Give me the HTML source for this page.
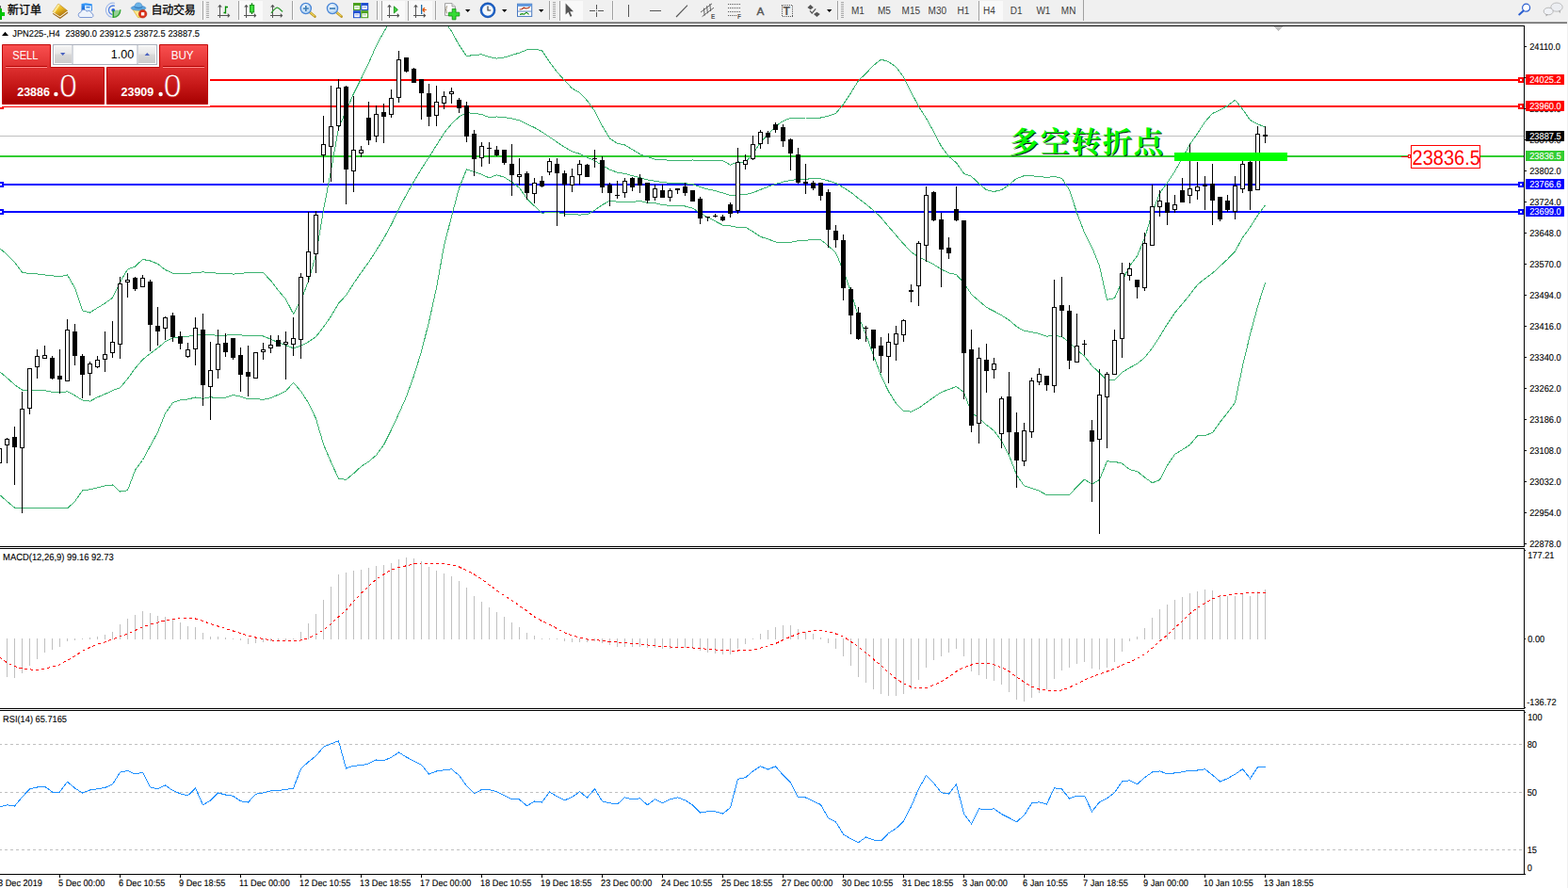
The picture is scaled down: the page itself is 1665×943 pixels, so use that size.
<!DOCTYPE html>
<html><head><meta charset="utf-8"><title>JPN225-,H4</title>
<style>
html,body{margin:0;padding:0;background:#fff;}
body{width:1665px;height:943px;overflow:hidden;position:relative;font-family:"Liberation Sans", sans-serif;}

#tb{position:absolute;left:0;top:0;width:1664px;height:23px;background:#f0f0f0;}
#tbl1{position:absolute;left:0;top:23px;width:1664px;height:1px;background:#a0a0a0;}
#tbl2{position:absolute;left:0;top:24px;width:1664px;height:1px;background:#696969;}
#redge{position:absolute;left:1664px;top:0;width:1px;height:943px;background:#f0f0f0;}
#oc{position:absolute;left:0;top:44px;width:224px;height:68px;background:#fff;}
#oc div{position:absolute;box-sizing:border-box;}
#oc .red{background:linear-gradient(#f24a4a 0%,#dc2c2c 30%,#c41414 70%,#a80000 100%);}
#oc .btn{background:linear-gradient(#f55252 0%,#e23434 100%);color:#fff;font-size:11px;text-align:center;line-height:23px;}
#oc .ul{height:1px;background:#f98a8a;}
#oc .sm{color:#fff;font-weight:bold;font-size:12.5px;line-height:12px;}
#oc .lg{color:#fff;font-size:34px;line-height:34px;}
#oc .vol{left:56px;top:3px;width:112px;height:22px;background:#fff;border:1px solid #b4bcc8;}
#oc .sp{top:4px;width:19px;height:20px;background:linear-gradient(#f2f2f2,#cfcfcf);border:1px solid #c8c8c8;}

</style></head><body>
<svg width="1665" height="943" viewBox="0 0 1665 943" style="position:absolute;left:0;top:0" shape-rendering="crispEdges" font-family='"Liberation Sans", sans-serif'><defs><clipPath id="mainclip"><rect x="0" y="28" width="1618" height="552"/></clipPath></defs><rect x="0" y="27" width="1619" height="1" fill="#000"/><rect x="1618" y="27" width="1" height="554" fill="#000"/><rect x="0" y="580" width="1619" height="1" fill="#000"/><rect x="0" y="582" width="1619" height="1" fill="#000"/><rect x="1618" y="582" width="1" height="171" fill="#000"/><rect x="0" y="752" width="1619" height="1" fill="#000"/><rect x="0" y="754" width="1619" height="1" fill="#000"/><rect x="1618" y="754" width="1" height="175" fill="#000"/><rect x="0" y="928" width="1620" height="1" fill="#000"/><rect x="0" y="144" width="1618" height="1" fill="#c0c0c0"/><rect x="0" y="84" width="1618" height="2" fill="#ff0000"/><rect x="0" y="112" width="1618" height="2" fill="#ff0000"/><rect x="0" y="165" width="1618" height="2" fill="#32cd32"/><rect x="0" y="195" width="1618" height="2" fill="#0000ff"/><rect x="0" y="224" width="1618" height="2" fill="#0000ff"/><rect x="1612" y="82" width="6" height="6" fill="#ff0000"/><rect x="1614" y="84" width="2" height="2" fill="#fff"/><rect x="-2" y="82" width="6" height="6" fill="#ff0000"/><rect x="0" y="84" width="2" height="2" fill="#fff"/><rect x="1612" y="110" width="6" height="6" fill="#ff0000"/><rect x="1614" y="112" width="2" height="2" fill="#fff"/><rect x="-2" y="110" width="6" height="6" fill="#ff0000"/><rect x="0" y="112" width="2" height="2" fill="#fff"/><rect x="1612" y="193" width="6" height="6" fill="#0000ff"/><rect x="1614" y="195" width="2" height="2" fill="#fff"/><rect x="-2" y="193" width="6" height="6" fill="#0000ff"/><rect x="0" y="195" width="2" height="2" fill="#fff"/><rect x="1612" y="222" width="6" height="6" fill="#0000ff"/><rect x="1614" y="224" width="2" height="2" fill="#fff"/><rect x="-2" y="222" width="6" height="6" fill="#0000ff"/><rect x="0" y="224" width="2" height="2" fill="#fff"/><polyline points="-0.5,263.5 7.5,270.2 15.5,278.4 23.5,289.0 31.5,290.9 39.5,290.9 47.5,292.0 55.5,292.8 63.5,294.0 71.5,291.8 79.5,305.8 87.5,329.8 95.5,332.0 103.5,326.9 111.5,322.1 119.5,316.2 127.5,299.5 135.5,286.1 143.5,283.0 151.5,275.4 159.5,277.0 167.5,280.2 175.5,286.5 183.5,290.2 191.5,290.4 199.5,290.4 207.5,289.5 215.5,288.9 223.5,289.5 231.5,290.2 239.5,290.2 247.5,291.1 255.5,290.5 263.5,289.5 271.5,289.5 279.5,289.7 287.5,297.9 295.5,308.4 303.5,317.8 311.5,333.3 319.5,319.2 327.5,298.4 335.5,270.7 343.5,223.0 351.5,181.2 359.5,135.8 367.5,117.8 375.5,99.5 383.5,83.5 391.5,67.0 399.5,48.6 407.5,33.9 415.5,20.6 423.5,4.2 431.5,-7.7 439.5,-13.9 447.5,-14.8 455.5,-7.9 463.5,2.9 471.5,21.6 479.5,33.3 487.5,47.9 495.5,59.6 503.5,58.4 511.5,57.8 519.5,60.5 527.5,62.1 535.5,61.0 543.5,58.5 551.5,56.1 559.5,52.9 567.5,52.1 575.5,53.8 583.5,65.8 591.5,76.4 599.5,85.4 607.5,93.9 615.5,98.5 623.5,106.8 631.5,117.9 639.5,133.6 647.5,146.9 655.5,152.3 663.5,154.0 671.5,158.7 679.5,163.7 687.5,166.6 695.5,169.2 703.5,169.5 711.5,170.4 719.5,170.4 727.5,170.5 735.5,170.0 743.5,171.0 751.5,170.9 759.5,170.3 767.5,170.7 775.5,175.1 783.5,171.9 791.5,172.5 799.5,163.2 807.5,151.4 815.5,142.8 823.5,134.1 831.5,128.5 839.5,125.4 847.5,125.2 855.5,125.0 863.5,125.0 871.5,125.0 879.5,123.1 887.5,120.5 895.5,110.9 903.5,98.8 911.5,85.6 919.5,78.0 927.5,69.6 935.5,63.1 943.5,65.5 951.5,71.1 959.5,82.0 967.5,97.9 975.5,113.0 983.5,125.7 991.5,139.9 999.5,155.5 1007.5,166.0 1015.5,172.9 1023.5,184.3 1031.5,187.3 1039.5,195.0 1047.5,201.7 1055.5,203.5 1063.5,201.6 1071.5,196.3 1079.5,189.4 1087.5,186.7 1095.5,186.8 1103.5,187.4 1111.5,188.4 1119.5,187.4 1127.5,189.3 1135.5,201.5 1143.5,226.1 1151.5,247.1 1159.5,262.6 1167.5,282.3 1175.5,318.3 1183.5,316.6 1191.5,298.6 1199.5,282.7 1207.5,271.9 1215.5,252.7 1223.5,226.4 1231.5,205.1 1239.5,194.1 1247.5,181.9 1255.5,167.9 1263.5,153.3 1271.5,141.8 1279.5,129.4 1287.5,120.5 1295.5,116.8 1303.5,112.4 1311.5,106.2 1319.5,116.0 1327.5,127.5 1335.5,131.7 1343.5,135.2" fill="none" stroke="#3cb371" stroke-width="1" clip-path="url(#mainclip)"/><polyline points="-0.5,394.5 7.5,401.3 15.5,408.5 23.5,414.1 31.5,414.9 39.5,414.7 47.5,414.7 55.5,416.2 63.5,417.1 71.5,415.7 79.5,420.0 87.5,425.0 95.5,426.1 103.5,421.9 111.5,418.5 119.5,414.7 127.5,411.8 135.5,402.2 143.5,391.2 151.5,381.9 159.5,375.4 167.5,369.6 175.5,362.8 183.5,358.9 191.5,357.6 199.5,357.2 207.5,355.8 215.5,356.1 223.5,355.6 231.5,356.4 239.5,356.2 247.5,355.3 255.5,355.9 263.5,356.7 271.5,356.6 279.5,357.0 287.5,360.2 295.5,363.8 303.5,366.6 311.5,369.8 319.5,367.3 327.5,363.1 335.5,357.6 343.5,347.4 351.5,335.9 359.5,322.1 367.5,313.6 375.5,301.1 383.5,289.4 391.5,278.6 399.5,266.0 407.5,253.2 415.5,238.6 423.5,221.8 431.5,206.8 439.5,192.6 447.5,179.2 455.5,167.0 463.5,154.2 471.5,141.4 479.5,131.6 487.5,123.9 495.5,119.7 503.5,120.5 511.5,121.5 519.5,124.7 527.5,124.0 535.5,124.6 543.5,125.9 551.5,127.8 559.5,131.9 567.5,135.4 575.5,140.1 583.5,145.5 591.5,150.9 599.5,156.3 607.5,160.8 615.5,163.3 623.5,167.2 631.5,170.6 639.5,175.6 647.5,180.1 655.5,183.2 663.5,184.4 671.5,186.6 679.5,188.6 687.5,190.9 695.5,192.3 703.5,193.6 711.5,194.4 719.5,194.2 727.5,194.8 735.5,195.6 743.5,198.6 751.5,200.9 759.5,202.6 767.5,204.9 775.5,207.5 783.5,206.8 791.5,206.8 799.5,204.6 807.5,201.4 815.5,198.3 823.5,195.6 831.5,193.1 839.5,191.4 847.5,190.4 855.5,190.2 863.5,189.7 871.5,189.9 879.5,192.0 887.5,194.5 895.5,199.1 903.5,204.2 911.5,210.7 919.5,216.7 927.5,223.4 935.5,231.0 943.5,240.6 951.5,249.8 959.5,259.1 967.5,267.6 975.5,273.2 983.5,276.7 991.5,280.9 999.5,286.0 1007.5,289.8 1015.5,291.7 1023.5,300.4 1031.5,312.6 1039.5,319.5 1047.5,326.4 1055.5,330.5 1063.5,334.9 1071.5,339.9 1079.5,346.9 1087.5,351.3 1095.5,352.6 1103.5,354.4 1111.5,357.1 1119.5,356.4 1127.5,357.4 1135.5,363.6 1143.5,371.6 1151.5,378.1 1159.5,388.4 1167.5,395.9 1175.5,404.1 1183.5,403.4 1191.5,395.4 1199.5,390.6 1207.5,386.2 1215.5,379.8 1223.5,369.6 1231.5,357.4 1239.5,344.2 1247.5,332.2 1255.5,322.7 1263.5,312.9 1271.5,302.4 1279.5,295.9 1287.5,290.1 1295.5,282.6 1303.5,275.3 1311.5,266.9 1319.5,252.2 1327.5,241.3 1335.5,228.6 1343.5,217.8" fill="none" stroke="#3cb371" stroke-width="1" clip-path="url(#mainclip)"/><polyline points="-0.5,525.3 7.5,532.5 15.5,539.0 23.5,539.0 31.5,539.0 39.5,539.0 47.5,539.0 55.5,539.0 63.5,539.0 71.5,539.9 79.5,532.5 87.5,521.0 95.5,519.8 103.5,517.8 111.5,515.9 119.5,514.9 127.5,522.1 135.5,520.7 143.5,499.3 151.5,488.5 159.5,473.7 167.5,459.0 175.5,439.0 183.5,427.6 191.5,424.7 199.5,424.0 207.5,422.0 215.5,423.3 223.5,421.8 231.5,422.6 239.5,422.2 247.5,419.5 255.5,421.2 263.5,423.9 271.5,423.7 279.5,424.3 287.5,422.6 295.5,419.1 303.5,415.4 311.5,406.3 319.5,415.4 327.5,427.8 335.5,444.6 343.5,471.9 351.5,490.7 359.5,508.3 367.5,509.4 375.5,502.8 383.5,495.4 391.5,490.2 399.5,483.4 407.5,472.5 415.5,456.5 423.5,439.3 431.5,421.3 439.5,399.1 447.5,373.2 455.5,341.9 463.5,305.6 471.5,261.2 479.5,229.8 487.5,199.9 495.5,179.8 503.5,182.5 511.5,185.2 519.5,188.9 527.5,185.8 535.5,188.2 543.5,193.3 551.5,199.4 559.5,210.9 567.5,218.8 575.5,226.4 583.5,225.2 591.5,225.4 599.5,227.2 607.5,227.6 615.5,228.1 623.5,227.7 631.5,223.2 639.5,217.6 647.5,213.3 655.5,214.2 663.5,214.9 671.5,214.5 679.5,213.4 687.5,215.3 695.5,215.5 703.5,217.6 711.5,218.4 719.5,218.1 727.5,219.0 735.5,221.1 743.5,226.1 751.5,230.9 759.5,234.9 767.5,239.1 775.5,239.9 783.5,241.6 791.5,241.2 799.5,246.0 807.5,251.4 815.5,253.8 823.5,257.0 831.5,257.7 839.5,257.4 847.5,255.7 855.5,255.3 863.5,254.3 871.5,254.8 879.5,260.9 887.5,268.5 895.5,287.3 903.5,309.7 911.5,335.8 919.5,355.3 927.5,377.3 935.5,398.9 943.5,415.6 951.5,428.4 959.5,436.2 967.5,437.2 975.5,433.4 983.5,427.7 991.5,421.9 999.5,416.5 1007.5,413.5 1015.5,410.5 1023.5,416.6 1031.5,438.0 1039.5,444.0 1047.5,451.2 1055.5,457.5 1063.5,468.3 1071.5,483.5 1079.5,504.4 1087.5,515.9 1095.5,518.5 1103.5,521.3 1111.5,525.7 1119.5,525.3 1127.5,525.4 1135.5,525.6 1143.5,517.0 1151.5,509.2 1159.5,514.1 1167.5,509.5 1175.5,489.9 1183.5,490.3 1191.5,492.2 1199.5,498.6 1207.5,500.5 1215.5,506.9 1223.5,512.8 1231.5,509.6 1239.5,494.3 1247.5,482.5 1255.5,477.5 1263.5,472.4 1271.5,462.9 1279.5,462.4 1287.5,459.6 1295.5,448.3 1303.5,438.2 1311.5,427.6 1319.5,388.4 1327.5,355.2 1335.5,325.5 1343.5,300.3" fill="none" stroke="#3cb371" stroke-width="1" clip-path="url(#mainclip)"/><rect x="-1" y="476" width="1" height="16" fill="#000"/><rect x="-3" y="476" width="5" height="16" fill="#000"/><rect x="-2" y="477" width="3" height="14" fill="#fff"/><rect x="7" y="465" width="1" height="27" fill="#000"/><rect x="5" y="466" width="5" height="7" fill="#000"/><rect x="6" y="467" width="3" height="5" fill="#fff"/><rect x="15" y="453" width="1" height="62" fill="#000"/><rect x="13" y="464" width="5" height="11" fill="#000"/><rect x="23" y="416" width="1" height="129" fill="#000"/><rect x="21" y="434" width="5" height="42" fill="#000"/><rect x="22" y="435" width="3" height="40" fill="#fff"/><rect x="31" y="391" width="1" height="49" fill="#000"/><rect x="29" y="391" width="5" height="43" fill="#000"/><rect x="30" y="392" width="3" height="41" fill="#fff"/><rect x="39" y="371" width="1" height="31" fill="#000"/><rect x="37" y="378" width="5" height="12" fill="#000"/><rect x="38" y="379" width="3" height="10" fill="#fff"/><rect x="47" y="367" width="1" height="14" fill="#000"/><rect x="45" y="377" width="5" height="4" fill="#000"/><rect x="46" y="378" width="3" height="2" fill="#fff"/><rect x="55" y="378" width="1" height="25" fill="#000"/><rect x="53" y="380" width="5" height="22" fill="#000"/><rect x="63" y="371" width="1" height="47" fill="#000"/><rect x="61" y="399" width="5" height="4" fill="#000"/><rect x="71" y="339" width="1" height="66" fill="#000"/><rect x="69" y="350" width="5" height="55" fill="#000"/><rect x="70" y="351" width="3" height="53" fill="#fff"/><rect x="79" y="344" width="1" height="44" fill="#000"/><rect x="77" y="352" width="5" height="26" fill="#000"/><rect x="87" y="376" width="1" height="47" fill="#000"/><rect x="85" y="378" width="5" height="20" fill="#000"/><rect x="95" y="384" width="1" height="36" fill="#000"/><rect x="93" y="386" width="5" height="11" fill="#000"/><rect x="94" y="387" width="3" height="9" fill="#fff"/><rect x="103" y="378" width="1" height="13" fill="#000"/><rect x="101" y="382" width="5" height="8" fill="#000"/><rect x="102" y="383" width="3" height="6" fill="#fff"/><rect x="111" y="352" width="1" height="43" fill="#000"/><rect x="109" y="376" width="5" height="6" fill="#000"/><rect x="110" y="377" width="3" height="4" fill="#fff"/><rect x="119" y="341" width="1" height="39" fill="#000"/><rect x="117" y="363" width="5" height="12" fill="#000"/><rect x="118" y="364" width="3" height="10" fill="#fff"/><rect x="127" y="294" width="1" height="87" fill="#000"/><rect x="125" y="301" width="5" height="65" fill="#000"/><rect x="126" y="302" width="3" height="63" fill="#fff"/><rect x="135" y="290" width="1" height="26" fill="#000"/><rect x="133" y="297" width="5" height="3" fill="#000"/><rect x="134" y="298" width="3" height="1" fill="#fff"/><rect x="143" y="294" width="1" height="15" fill="#000"/><rect x="141" y="295" width="5" height="12" fill="#000"/><rect x="151" y="292" width="1" height="13" fill="#000"/><rect x="149" y="295" width="5" height="10" fill="#000"/><rect x="150" y="296" width="3" height="8" fill="#fff"/><rect x="159" y="297" width="1" height="76" fill="#000"/><rect x="157" y="299" width="5" height="46" fill="#000"/><rect x="167" y="326" width="1" height="41" fill="#000"/><rect x="165" y="346" width="5" height="6" fill="#000"/><rect x="175" y="336" width="1" height="25" fill="#000"/><rect x="173" y="337" width="5" height="12" fill="#000"/><rect x="174" y="338" width="3" height="10" fill="#fff"/><rect x="183" y="332" width="1" height="31" fill="#000"/><rect x="181" y="335" width="5" height="23" fill="#000"/><rect x="191" y="352" width="1" height="19" fill="#000"/><rect x="189" y="357" width="5" height="8" fill="#000"/><rect x="199" y="364" width="1" height="16" fill="#000"/><rect x="197" y="371" width="5" height="8" fill="#000"/><rect x="198" y="372" width="3" height="6" fill="#fff"/><rect x="207" y="337" width="1" height="51" fill="#000"/><rect x="205" y="348" width="5" height="23" fill="#000"/><rect x="206" y="349" width="3" height="21" fill="#fff"/><rect x="215" y="333" width="1" height="98" fill="#000"/><rect x="213" y="350" width="5" height="59" fill="#000"/><rect x="223" y="363" width="1" height="83" fill="#000"/><rect x="221" y="393" width="5" height="18" fill="#000"/><rect x="222" y="394" width="3" height="16" fill="#fff"/><rect x="231" y="350" width="1" height="52" fill="#000"/><rect x="229" y="365" width="5" height="28" fill="#000"/><rect x="230" y="366" width="3" height="26" fill="#fff"/><rect x="239" y="354" width="1" height="25" fill="#000"/><rect x="237" y="364" width="5" height="10" fill="#000"/><rect x="247" y="359" width="1" height="23" fill="#000"/><rect x="245" y="359" width="5" height="21" fill="#000"/><rect x="255" y="369" width="1" height="47" fill="#000"/><rect x="253" y="377" width="5" height="21" fill="#000"/><rect x="263" y="367" width="1" height="54" fill="#000"/><rect x="261" y="395" width="5" height="5" fill="#000"/><rect x="271" y="374" width="1" height="28" fill="#000"/><rect x="269" y="374" width="5" height="28" fill="#000"/><rect x="270" y="375" width="3" height="26" fill="#fff"/><rect x="279" y="364" width="1" height="18" fill="#000"/><rect x="277" y="371" width="5" height="3" fill="#000"/><rect x="278" y="372" width="3" height="1" fill="#fff"/><rect x="287" y="356" width="1" height="19" fill="#000"/><rect x="285" y="366" width="5" height="4" fill="#000"/><rect x="286" y="367" width="3" height="2" fill="#fff"/><rect x="295" y="356" width="1" height="12" fill="#000"/><rect x="293" y="361" width="5" height="7" fill="#000"/><rect x="303" y="352" width="1" height="51" fill="#000"/><rect x="301" y="363" width="5" height="3" fill="#000"/><rect x="302" y="364" width="3" height="1" fill="#fff"/><rect x="311" y="337" width="1" height="41" fill="#000"/><rect x="309" y="359" width="5" height="7" fill="#000"/><rect x="310" y="360" width="3" height="5" fill="#fff"/><rect x="319" y="290" width="1" height="91" fill="#000"/><rect x="317" y="294" width="5" height="67" fill="#000"/><rect x="318" y="295" width="3" height="65" fill="#fff"/><rect x="327" y="225" width="1" height="75" fill="#000"/><rect x="325" y="267" width="5" height="27" fill="#000"/><rect x="326" y="268" width="3" height="25" fill="#fff"/><rect x="335" y="224" width="1" height="66" fill="#000"/><rect x="333" y="228" width="5" height="42" fill="#000"/><rect x="334" y="229" width="3" height="40" fill="#fff"/><rect x="343" y="123" width="1" height="71" fill="#000"/><rect x="341" y="153" width="5" height="12" fill="#000"/><rect x="342" y="154" width="3" height="10" fill="#fff"/><rect x="351" y="91" width="1" height="102" fill="#000"/><rect x="349" y="134" width="5" height="22" fill="#000"/><rect x="350" y="135" width="3" height="20" fill="#fff"/><rect x="359" y="84" width="1" height="55" fill="#000"/><rect x="357" y="93" width="5" height="41" fill="#000"/><rect x="358" y="94" width="3" height="39" fill="#fff"/><rect x="367" y="91" width="1" height="126" fill="#000"/><rect x="365" y="92" width="5" height="88" fill="#000"/><rect x="375" y="102" width="1" height="102" fill="#000"/><rect x="373" y="159" width="5" height="23" fill="#000"/><rect x="374" y="160" width="3" height="21" fill="#fff"/><rect x="383" y="155" width="1" height="12" fill="#000"/><rect x="381" y="159" width="5" height="4" fill="#000"/><rect x="382" y="160" width="3" height="2" fill="#fff"/><rect x="391" y="108" width="1" height="46" fill="#000"/><rect x="389" y="125" width="5" height="24" fill="#000"/><rect x="399" y="112" width="1" height="39" fill="#000"/><rect x="397" y="121" width="5" height="24" fill="#000"/><rect x="398" y="122" width="3" height="22" fill="#fff"/><rect x="407" y="110" width="1" height="42" fill="#000"/><rect x="405" y="119" width="5" height="5" fill="#000"/><rect x="415" y="95" width="1" height="30" fill="#000"/><rect x="413" y="104" width="5" height="18" fill="#000"/><rect x="414" y="105" width="3" height="16" fill="#fff"/><rect x="423" y="54" width="1" height="55" fill="#000"/><rect x="421" y="63" width="5" height="41" fill="#000"/><rect x="422" y="64" width="3" height="39" fill="#fff"/><rect x="431" y="61" width="1" height="16" fill="#000"/><rect x="429" y="61" width="5" height="15" fill="#000"/><rect x="439" y="72" width="1" height="16" fill="#000"/><rect x="437" y="73" width="5" height="15" fill="#000"/><rect x="447" y="84" width="1" height="43" fill="#000"/><rect x="445" y="84" width="5" height="15" fill="#000"/><rect x="455" y="89" width="1" height="45" fill="#000"/><rect x="453" y="99" width="5" height="25" fill="#000"/><rect x="463" y="91" width="1" height="43" fill="#000"/><rect x="461" y="108" width="5" height="15" fill="#000"/><rect x="462" y="109" width="3" height="13" fill="#fff"/><rect x="471" y="97" width="1" height="19" fill="#000"/><rect x="469" y="102" width="5" height="8" fill="#000"/><rect x="470" y="103" width="3" height="6" fill="#fff"/><rect x="479" y="93" width="1" height="17" fill="#000"/><rect x="477" y="97" width="5" height="3" fill="#000"/><rect x="478" y="98" width="3" height="1" fill="#fff"/><rect x="487" y="104" width="1" height="16" fill="#000"/><rect x="485" y="106" width="5" height="9" fill="#000"/><rect x="495" y="108" width="1" height="43" fill="#000"/><rect x="493" y="112" width="5" height="33" fill="#000"/><rect x="503" y="138" width="1" height="49" fill="#000"/><rect x="501" y="142" width="5" height="27" fill="#000"/><rect x="511" y="151" width="1" height="26" fill="#000"/><rect x="509" y="155" width="5" height="13" fill="#000"/><rect x="510" y="156" width="3" height="11" fill="#fff"/><rect x="519" y="151" width="1" height="23" fill="#000"/><rect x="517" y="157" width="5" height="1" fill="#000"/><rect x="527" y="155" width="1" height="11" fill="#000"/><rect x="525" y="159" width="5" height="6" fill="#000"/><rect x="535" y="159" width="1" height="16" fill="#000"/><rect x="533" y="159" width="5" height="14" fill="#000"/><rect x="543" y="153" width="1" height="55" fill="#000"/><rect x="541" y="174" width="5" height="12" fill="#000"/><rect x="551" y="168" width="1" height="29" fill="#000"/><rect x="549" y="185" width="5" height="3" fill="#000"/><rect x="550" y="186" width="3" height="1" fill="#fff"/><rect x="559" y="182" width="1" height="30" fill="#000"/><rect x="557" y="184" width="5" height="21" fill="#000"/><rect x="567" y="189" width="1" height="27" fill="#000"/><rect x="565" y="194" width="5" height="12" fill="#000"/><rect x="566" y="195" width="3" height="10" fill="#fff"/><rect x="575" y="187" width="1" height="12" fill="#000"/><rect x="573" y="192" width="5" height="6" fill="#000"/><rect x="583" y="168" width="1" height="18" fill="#000"/><rect x="581" y="171" width="5" height="12" fill="#000"/><rect x="582" y="172" width="3" height="10" fill="#fff"/><rect x="591" y="168" width="1" height="72" fill="#000"/><rect x="589" y="174" width="5" height="10" fill="#000"/><rect x="599" y="181" width="1" height="49" fill="#000"/><rect x="597" y="184" width="5" height="12" fill="#000"/><rect x="607" y="179" width="1" height="25" fill="#000"/><rect x="605" y="187" width="5" height="10" fill="#000"/><rect x="606" y="188" width="3" height="8" fill="#fff"/><rect x="615" y="170" width="1" height="26" fill="#000"/><rect x="613" y="174" width="5" height="12" fill="#000"/><rect x="614" y="175" width="3" height="10" fill="#fff"/><rect x="623" y="174" width="1" height="14" fill="#000"/><rect x="621" y="175" width="5" height="13" fill="#000"/><rect x="631" y="159" width="1" height="19" fill="#000"/><rect x="629" y="168" width="5" height="1" fill="#000"/><rect x="639" y="166" width="1" height="39" fill="#000"/><rect x="637" y="170" width="5" height="29" fill="#000"/><rect x="647" y="194" width="1" height="25" fill="#000"/><rect x="645" y="196" width="5" height="9" fill="#000"/><rect x="655" y="192" width="1" height="19" fill="#000"/><rect x="653" y="207" width="5" height="1" fill="#000"/><rect x="663" y="189" width="1" height="21" fill="#000"/><rect x="661" y="192" width="5" height="13" fill="#000"/><rect x="662" y="193" width="3" height="11" fill="#fff"/><rect x="671" y="188" width="1" height="15" fill="#000"/><rect x="669" y="189" width="5" height="10" fill="#000"/><rect x="679" y="185" width="1" height="20" fill="#000"/><rect x="677" y="189" width="5" height="8" fill="#000"/><rect x="687" y="194" width="1" height="22" fill="#000"/><rect x="685" y="194" width="5" height="19" fill="#000"/><rect x="695" y="196" width="1" height="17" fill="#000"/><rect x="693" y="200" width="5" height="10" fill="#000"/><rect x="694" y="201" width="3" height="8" fill="#fff"/><rect x="703" y="196" width="1" height="14" fill="#000"/><rect x="701" y="202" width="5" height="8" fill="#000"/><rect x="711" y="200" width="1" height="14" fill="#000"/><rect x="709" y="202" width="5" height="8" fill="#000"/><rect x="710" y="203" width="3" height="6" fill="#fff"/><rect x="719" y="200" width="1" height="6" fill="#000"/><rect x="717" y="200" width="5" height="2" fill="#000"/><rect x="727" y="194" width="1" height="14" fill="#000"/><rect x="725" y="198" width="5" height="7" fill="#000"/><rect x="735" y="202" width="1" height="12" fill="#000"/><rect x="733" y="202" width="5" height="12" fill="#000"/><rect x="743" y="209" width="1" height="29" fill="#000"/><rect x="741" y="211" width="5" height="21" fill="#000"/><rect x="751" y="230" width="1" height="5" fill="#000"/><rect x="749" y="230" width="5" height="1" fill="#000"/><rect x="759" y="227" width="1" height="4" fill="#000"/><rect x="757" y="229" width="5" height="1" fill="#000"/><rect x="767" y="228" width="1" height="7" fill="#000"/><rect x="765" y="230" width="5" height="4" fill="#000"/><rect x="775" y="215" width="1" height="16" fill="#000"/><rect x="773" y="217" width="5" height="10" fill="#000"/><rect x="783" y="157" width="1" height="70" fill="#000"/><rect x="781" y="172" width="5" height="52" fill="#000"/><rect x="782" y="173" width="3" height="50" fill="#fff"/><rect x="791" y="164" width="1" height="16" fill="#000"/><rect x="789" y="170" width="5" height="5" fill="#000"/><rect x="790" y="171" width="3" height="3" fill="#fff"/><rect x="799" y="144" width="1" height="26" fill="#000"/><rect x="797" y="153" width="5" height="16" fill="#000"/><rect x="798" y="154" width="3" height="14" fill="#fff"/><rect x="807" y="138" width="1" height="20" fill="#000"/><rect x="805" y="140" width="5" height="13" fill="#000"/><rect x="806" y="141" width="3" height="11" fill="#fff"/><rect x="815" y="139" width="1" height="14" fill="#000"/><rect x="813" y="141" width="5" height="5" fill="#000"/><rect x="823" y="130" width="1" height="11" fill="#000"/><rect x="821" y="132" width="5" height="6" fill="#000"/><rect x="831" y="132" width="1" height="24" fill="#000"/><rect x="829" y="135" width="5" height="15" fill="#000"/><rect x="839" y="147" width="1" height="34" fill="#000"/><rect x="837" y="148" width="5" height="15" fill="#000"/><rect x="847" y="157" width="1" height="38" fill="#000"/><rect x="845" y="164" width="5" height="30" fill="#000"/><rect x="855" y="174" width="1" height="32" fill="#000"/><rect x="853" y="193" width="5" height="2" fill="#000"/><rect x="863" y="192" width="1" height="10" fill="#000"/><rect x="861" y="194" width="5" height="6" fill="#000"/><rect x="871" y="194" width="1" height="19" fill="#000"/><rect x="869" y="194" width="5" height="14" fill="#000"/><rect x="879" y="201" width="1" height="62" fill="#000"/><rect x="877" y="204" width="5" height="40" fill="#000"/><rect x="887" y="239" width="1" height="24" fill="#000"/><rect x="885" y="245" width="5" height="10" fill="#000"/><rect x="895" y="249" width="1" height="70" fill="#000"/><rect x="893" y="255" width="5" height="51" fill="#000"/><rect x="903" y="305" width="1" height="50" fill="#000"/><rect x="901" y="307" width="5" height="28" fill="#000"/><rect x="911" y="326" width="1" height="35" fill="#000"/><rect x="909" y="332" width="5" height="28" fill="#000"/><rect x="919" y="346" width="1" height="17" fill="#000"/><rect x="917" y="348" width="5" height="1" fill="#000"/><rect x="927" y="350" width="1" height="33" fill="#000"/><rect x="925" y="350" width="5" height="20" fill="#000"/><rect x="935" y="358" width="1" height="38" fill="#000"/><rect x="933" y="367" width="5" height="11" fill="#000"/><rect x="943" y="354" width="1" height="53" fill="#000"/><rect x="941" y="363" width="5" height="16" fill="#000"/><rect x="942" y="364" width="3" height="14" fill="#fff"/><rect x="951" y="346" width="1" height="37" fill="#000"/><rect x="949" y="354" width="5" height="12" fill="#000"/><rect x="950" y="355" width="3" height="10" fill="#fff"/><rect x="959" y="339" width="1" height="24" fill="#000"/><rect x="957" y="340" width="5" height="16" fill="#000"/><rect x="958" y="341" width="3" height="14" fill="#fff"/><rect x="967" y="302" width="1" height="19" fill="#000"/><rect x="965" y="308" width="5" height="2" fill="#000"/><rect x="975" y="256" width="1" height="69" fill="#000"/><rect x="973" y="258" width="5" height="46" fill="#000"/><rect x="974" y="259" width="3" height="44" fill="#fff"/><rect x="983" y="198" width="1" height="80" fill="#000"/><rect x="981" y="207" width="5" height="54" fill="#000"/><rect x="982" y="208" width="3" height="52" fill="#fff"/><rect x="991" y="203" width="1" height="32" fill="#000"/><rect x="989" y="204" width="5" height="30" fill="#000"/><rect x="999" y="226" width="1" height="79" fill="#000"/><rect x="997" y="233" width="5" height="32" fill="#000"/><rect x="1007" y="252" width="1" height="23" fill="#000"/><rect x="1005" y="263" width="5" height="6" fill="#000"/><rect x="1015" y="198" width="1" height="37" fill="#000"/><rect x="1013" y="222" width="5" height="12" fill="#000"/><rect x="1023" y="234" width="1" height="190" fill="#000"/><rect x="1021" y="234" width="5" height="141" fill="#000"/><rect x="1031" y="350" width="1" height="109" fill="#000"/><rect x="1029" y="371" width="5" height="81" fill="#000"/><rect x="1039" y="369" width="1" height="102" fill="#000"/><rect x="1037" y="380" width="5" height="70" fill="#000"/><rect x="1038" y="381" width="3" height="68" fill="#fff"/><rect x="1047" y="365" width="1" height="52" fill="#000"/><rect x="1045" y="382" width="5" height="12" fill="#000"/><rect x="1055" y="380" width="1" height="22" fill="#000"/><rect x="1053" y="386" width="5" height="7" fill="#000"/><rect x="1054" y="387" width="3" height="5" fill="#fff"/><rect x="1063" y="421" width="1" height="55" fill="#000"/><rect x="1061" y="423" width="5" height="38" fill="#000"/><rect x="1062" y="424" width="3" height="36" fill="#fff"/><rect x="1071" y="395" width="1" height="87" fill="#000"/><rect x="1069" y="421" width="5" height="38" fill="#000"/><rect x="1079" y="438" width="1" height="80" fill="#000"/><rect x="1077" y="459" width="5" height="30" fill="#000"/><rect x="1087" y="449" width="1" height="46" fill="#000"/><rect x="1085" y="457" width="5" height="33" fill="#000"/><rect x="1086" y="458" width="3" height="31" fill="#fff"/><rect x="1095" y="401" width="1" height="64" fill="#000"/><rect x="1093" y="404" width="5" height="55" fill="#000"/><rect x="1094" y="405" width="3" height="53" fill="#fff"/><rect x="1103" y="391" width="1" height="18" fill="#000"/><rect x="1101" y="397" width="5" height="9" fill="#000"/><rect x="1102" y="398" width="3" height="7" fill="#fff"/><rect x="1111" y="399" width="1" height="16" fill="#000"/><rect x="1109" y="399" width="5" height="10" fill="#000"/><rect x="1119" y="297" width="1" height="120" fill="#000"/><rect x="1117" y="326" width="5" height="84" fill="#000"/><rect x="1118" y="327" width="3" height="82" fill="#fff"/><rect x="1127" y="294" width="1" height="64" fill="#000"/><rect x="1125" y="324" width="5" height="6" fill="#000"/><rect x="1135" y="324" width="1" height="68" fill="#000"/><rect x="1133" y="330" width="5" height="53" fill="#000"/><rect x="1143" y="333" width="1" height="52" fill="#000"/><rect x="1141" y="367" width="5" height="18" fill="#000"/><rect x="1142" y="368" width="3" height="16" fill="#fff"/><rect x="1151" y="361" width="1" height="16" fill="#000"/><rect x="1149" y="365" width="5" height="1" fill="#000"/><rect x="1159" y="446" width="1" height="87" fill="#000"/><rect x="1157" y="457" width="5" height="12" fill="#000"/><rect x="1167" y="392" width="1" height="175" fill="#000"/><rect x="1165" y="419" width="5" height="48" fill="#000"/><rect x="1166" y="420" width="3" height="46" fill="#fff"/><rect x="1175" y="395" width="1" height="81" fill="#000"/><rect x="1173" y="397" width="5" height="25" fill="#000"/><rect x="1174" y="398" width="3" height="23" fill="#fff"/><rect x="1183" y="350" width="1" height="48" fill="#000"/><rect x="1181" y="361" width="5" height="37" fill="#000"/><rect x="1182" y="362" width="3" height="35" fill="#fff"/><rect x="1191" y="279" width="1" height="101" fill="#000"/><rect x="1189" y="290" width="5" height="70" fill="#000"/><rect x="1190" y="291" width="3" height="68" fill="#fff"/><rect x="1199" y="279" width="1" height="19" fill="#000"/><rect x="1197" y="285" width="5" height="8" fill="#000"/><rect x="1198" y="286" width="3" height="6" fill="#fff"/><rect x="1207" y="297" width="1" height="20" fill="#000"/><rect x="1205" y="297" width="5" height="8" fill="#000"/><rect x="1215" y="247" width="1" height="62" fill="#000"/><rect x="1213" y="258" width="5" height="48" fill="#000"/><rect x="1214" y="259" width="3" height="46" fill="#fff"/><rect x="1223" y="196" width="1" height="65" fill="#000"/><rect x="1221" y="219" width="5" height="42" fill="#000"/><rect x="1222" y="220" width="3" height="40" fill="#fff"/><rect x="1231" y="202" width="1" height="28" fill="#000"/><rect x="1229" y="213" width="5" height="7" fill="#000"/><rect x="1230" y="214" width="3" height="5" fill="#fff"/><rect x="1239" y="196" width="1" height="43" fill="#000"/><rect x="1237" y="215" width="5" height="11" fill="#000"/><rect x="1247" y="207" width="1" height="19" fill="#000"/><rect x="1245" y="217" width="5" height="6" fill="#000"/><rect x="1246" y="218" width="3" height="4" fill="#fff"/><rect x="1255" y="189" width="1" height="26" fill="#000"/><rect x="1253" y="202" width="5" height="13" fill="#000"/><rect x="1263" y="153" width="1" height="63" fill="#000"/><rect x="1261" y="200" width="5" height="8" fill="#000"/><rect x="1262" y="201" width="3" height="6" fill="#fff"/><rect x="1271" y="172" width="1" height="40" fill="#000"/><rect x="1269" y="198" width="5" height="5" fill="#000"/><rect x="1270" y="199" width="3" height="3" fill="#fff"/><rect x="1279" y="187" width="1" height="36" fill="#000"/><rect x="1277" y="196" width="5" height="2" fill="#000"/><rect x="1287" y="174" width="1" height="65" fill="#000"/><rect x="1285" y="195" width="5" height="18" fill="#000"/><rect x="1295" y="209" width="1" height="26" fill="#000"/><rect x="1293" y="209" width="5" height="24" fill="#000"/><rect x="1303" y="207" width="1" height="18" fill="#000"/><rect x="1301" y="213" width="5" height="10" fill="#000"/><rect x="1311" y="187" width="1" height="46" fill="#000"/><rect x="1309" y="197" width="5" height="28" fill="#000"/><rect x="1310" y="198" width="3" height="26" fill="#fff"/><rect x="1319" y="171" width="1" height="34" fill="#000"/><rect x="1317" y="174" width="5" height="27" fill="#000"/><rect x="1318" y="175" width="3" height="25" fill="#fff"/><rect x="1327" y="171" width="1" height="52" fill="#000"/><rect x="1325" y="172" width="5" height="31" fill="#000"/><rect x="1335" y="134" width="1" height="68" fill="#000"/><rect x="1333" y="142" width="5" height="60" fill="#000"/><rect x="1334" y="143" width="3" height="58" fill="#fff"/><rect x="1343" y="134" width="1" height="18" fill="#000"/><rect x="1341" y="143" width="5" height="2" fill="#000"/><rect x="1353" y="28" width="9" height="1" fill="#c0c0c0"/><rect x="1354" y="29" width="7" height="1" fill="#c0c0c0"/><rect x="1355" y="30" width="5" height="1" fill="#c0c0c0"/><rect x="1356" y="31" width="3" height="1" fill="#c0c0c0"/><rect x="1357" y="32" width="1" height="1" fill="#c0c0c0"/><rect x="1247" y="162" width="120" height="9" fill="#00ff00"/><rect x="1488" y="166" width="8" height="1" fill="#ff0000"/><rect x="1495" y="164" width="3" height="4" fill="#ff0000"/><rect x="1496" y="165" width="1" height="2" fill="#fff"/><rect x="1498.5" y="154.5" width="73" height="24" fill="#fff" stroke="#ff0000" stroke-width="1"/><rect x="-1" y="678" width="1" height="39" fill="#c0c0c0"/><rect x="7" y="678" width="1" height="41" fill="#c0c0c0"/><rect x="15" y="678" width="1" height="42" fill="#c0c0c0"/><rect x="23" y="678" width="1" height="37" fill="#c0c0c0"/><rect x="31" y="678" width="1" height="29" fill="#c0c0c0"/><rect x="39" y="678" width="1" height="22" fill="#c0c0c0"/><rect x="47" y="678" width="1" height="15" fill="#c0c0c0"/><rect x="55" y="678" width="1" height="12" fill="#c0c0c0"/><rect x="63" y="678" width="1" height="9" fill="#c0c0c0"/><rect x="71" y="678" width="1" height="3" fill="#c0c0c0"/><rect x="79" y="678" width="1" height="2" fill="#c0c0c0"/><rect x="87" y="678" width="1" height="1" fill="#c0c0c0"/><rect x="95" y="677" width="1" height="2" fill="#c0c0c0"/><rect x="103" y="676" width="1" height="3" fill="#c0c0c0"/><rect x="111" y="674" width="1" height="5" fill="#c0c0c0"/><rect x="119" y="671" width="1" height="8" fill="#c0c0c0"/><rect x="127" y="663" width="1" height="16" fill="#c0c0c0"/><rect x="135" y="657" width="1" height="22" fill="#c0c0c0"/><rect x="143" y="653" width="1" height="26" fill="#c0c0c0"/><rect x="151" y="649" width="1" height="30" fill="#c0c0c0"/><rect x="159" y="651" width="1" height="28" fill="#c0c0c0"/><rect x="167" y="654" width="1" height="25" fill="#c0c0c0"/><rect x="175" y="655" width="1" height="24" fill="#c0c0c0"/><rect x="183" y="658" width="1" height="21" fill="#c0c0c0"/><rect x="191" y="661" width="1" height="18" fill="#c0c0c0"/><rect x="199" y="665" width="1" height="14" fill="#c0c0c0"/><rect x="207" y="666" width="1" height="13" fill="#c0c0c0"/><rect x="215" y="672" width="1" height="7" fill="#c0c0c0"/><rect x="223" y="676" width="1" height="3" fill="#c0c0c0"/><rect x="231" y="676" width="1" height="3" fill="#c0c0c0"/><rect x="239" y="677" width="1" height="2" fill="#c0c0c0"/><rect x="247" y="678" width="1" height="1" fill="#c0c0c0"/><rect x="255" y="678" width="1" height="2" fill="#c0c0c0"/><rect x="263" y="678" width="1" height="6" fill="#c0c0c0"/><rect x="271" y="678" width="1" height="5" fill="#c0c0c0"/><rect x="279" y="678" width="1" height="4" fill="#c0c0c0"/><rect x="287" y="678" width="1" height="3" fill="#c0c0c0"/><rect x="295" y="678" width="1" height="2" fill="#c0c0c0"/><rect x="303" y="678" width="1" height="2" fill="#c0c0c0"/><rect x="311" y="678" width="1" height="1" fill="#c0c0c0"/><rect x="319" y="671" width="1" height="8" fill="#c0c0c0"/><rect x="327" y="662" width="1" height="17" fill="#c0c0c0"/><rect x="335" y="652" width="1" height="27" fill="#c0c0c0"/><rect x="343" y="637" width="1" height="42" fill="#c0c0c0"/><rect x="351" y="623" width="1" height="56" fill="#c0c0c0"/><rect x="359" y="610" width="1" height="69" fill="#c0c0c0"/><rect x="367" y="608" width="1" height="71" fill="#c0c0c0"/><rect x="375" y="606" width="1" height="73" fill="#c0c0c0"/><rect x="383" y="605" width="1" height="74" fill="#c0c0c0"/><rect x="391" y="603" width="1" height="76" fill="#c0c0c0"/><rect x="399" y="601" width="1" height="78" fill="#c0c0c0"/><rect x="407" y="600" width="1" height="79" fill="#c0c0c0"/><rect x="415" y="598" width="1" height="81" fill="#c0c0c0"/><rect x="423" y="594" width="1" height="85" fill="#c0c0c0"/><rect x="431" y="592" width="1" height="87" fill="#c0c0c0"/><rect x="439" y="593" width="1" height="86" fill="#c0c0c0"/><rect x="447" y="596" width="1" height="83" fill="#c0c0c0"/><rect x="455" y="602" width="1" height="77" fill="#c0c0c0"/><rect x="463" y="606" width="1" height="73" fill="#c0c0c0"/><rect x="471" y="609" width="1" height="70" fill="#c0c0c0"/><rect x="479" y="612" width="1" height="67" fill="#c0c0c0"/><rect x="487" y="617" width="1" height="62" fill="#c0c0c0"/><rect x="495" y="624" width="1" height="55" fill="#c0c0c0"/><rect x="503" y="633" width="1" height="46" fill="#c0c0c0"/><rect x="511" y="639" width="1" height="40" fill="#c0c0c0"/><rect x="519" y="645" width="1" height="34" fill="#c0c0c0"/><rect x="527" y="650" width="1" height="29" fill="#c0c0c0"/><rect x="535" y="655" width="1" height="24" fill="#c0c0c0"/><rect x="543" y="661" width="1" height="18" fill="#c0c0c0"/><rect x="551" y="666" width="1" height="13" fill="#c0c0c0"/><rect x="559" y="672" width="1" height="7" fill="#c0c0c0"/><rect x="567" y="675" width="1" height="4" fill="#c0c0c0"/><rect x="575" y="678" width="1" height="1" fill="#c0c0c0"/><rect x="583" y="678" width="1" height="1" fill="#c0c0c0"/><rect x="591" y="678" width="1" height="1" fill="#c0c0c0"/><rect x="599" y="678" width="1" height="3" fill="#c0c0c0"/><rect x="607" y="678" width="1" height="4" fill="#c0c0c0"/><rect x="615" y="678" width="1" height="4" fill="#c0c0c0"/><rect x="623" y="678" width="1" height="4" fill="#c0c0c0"/><rect x="631" y="678" width="1" height="3" fill="#c0c0c0"/><rect x="639" y="678" width="1" height="5" fill="#c0c0c0"/><rect x="647" y="678" width="1" height="7" fill="#c0c0c0"/><rect x="655" y="678" width="1" height="9" fill="#c0c0c0"/><rect x="663" y="678" width="1" height="9" fill="#c0c0c0"/><rect x="671" y="678" width="1" height="9" fill="#c0c0c0"/><rect x="679" y="678" width="1" height="9" fill="#c0c0c0"/><rect x="687" y="678" width="1" height="10" fill="#c0c0c0"/><rect x="695" y="678" width="1" height="10" fill="#c0c0c0"/><rect x="703" y="678" width="1" height="11" fill="#c0c0c0"/><rect x="711" y="678" width="1" height="11" fill="#c0c0c0"/><rect x="719" y="678" width="1" height="10" fill="#c0c0c0"/><rect x="727" y="678" width="1" height="10" fill="#c0c0c0"/><rect x="735" y="678" width="1" height="11" fill="#c0c0c0"/><rect x="743" y="678" width="1" height="13" fill="#c0c0c0"/><rect x="751" y="678" width="1" height="15" fill="#c0c0c0"/><rect x="759" y="678" width="1" height="16" fill="#c0c0c0"/><rect x="767" y="678" width="1" height="17" fill="#c0c0c0"/><rect x="775" y="678" width="1" height="17" fill="#c0c0c0"/><rect x="783" y="678" width="1" height="11" fill="#c0c0c0"/><rect x="791" y="678" width="1" height="6" fill="#c0c0c0"/><rect x="799" y="678" width="1" height="1" fill="#c0c0c0"/><rect x="807" y="673" width="1" height="6" fill="#c0c0c0"/><rect x="815" y="669" width="1" height="10" fill="#c0c0c0"/><rect x="823" y="666" width="1" height="13" fill="#c0c0c0"/><rect x="831" y="664" width="1" height="15" fill="#c0c0c0"/><rect x="839" y="664" width="1" height="15" fill="#c0c0c0"/><rect x="847" y="668" width="1" height="11" fill="#c0c0c0"/><rect x="855" y="671" width="1" height="8" fill="#c0c0c0"/><rect x="863" y="673" width="1" height="6" fill="#c0c0c0"/><rect x="871" y="677" width="1" height="2" fill="#c0c0c0"/><rect x="879" y="678" width="1" height="5" fill="#c0c0c0"/><rect x="887" y="678" width="1" height="11" fill="#c0c0c0"/><rect x="895" y="678" width="1" height="19" fill="#c0c0c0"/><rect x="903" y="678" width="1" height="29" fill="#c0c0c0"/><rect x="911" y="678" width="1" height="41" fill="#c0c0c0"/><rect x="919" y="678" width="1" height="47" fill="#c0c0c0"/><rect x="927" y="678" width="1" height="54" fill="#c0c0c0"/><rect x="935" y="678" width="1" height="59" fill="#c0c0c0"/><rect x="943" y="678" width="1" height="61" fill="#c0c0c0"/><rect x="951" y="678" width="1" height="61" fill="#c0c0c0"/><rect x="959" y="678" width="1" height="59" fill="#c0c0c0"/><rect x="967" y="678" width="1" height="54" fill="#c0c0c0"/><rect x="975" y="678" width="1" height="44" fill="#c0c0c0"/><rect x="983" y="678" width="1" height="31" fill="#c0c0c0"/><rect x="991" y="678" width="1" height="23" fill="#c0c0c0"/><rect x="999" y="678" width="1" height="19" fill="#c0c0c0"/><rect x="1007" y="678" width="1" height="15" fill="#c0c0c0"/><rect x="1015" y="678" width="1" height="11" fill="#c0c0c0"/><rect x="1023" y="678" width="1" height="19" fill="#c0c0c0"/><rect x="1031" y="678" width="1" height="35" fill="#c0c0c0"/><rect x="1039" y="678" width="1" height="39" fill="#c0c0c0"/><rect x="1047" y="678" width="1" height="43" fill="#c0c0c0"/><rect x="1055" y="678" width="1" height="45" fill="#c0c0c0"/><rect x="1063" y="678" width="1" height="49" fill="#c0c0c0"/><rect x="1071" y="678" width="1" height="57" fill="#c0c0c0"/><rect x="1079" y="678" width="1" height="65" fill="#c0c0c0"/><rect x="1087" y="678" width="1" height="67" fill="#c0c0c0"/><rect x="1095" y="678" width="1" height="63" fill="#c0c0c0"/><rect x="1103" y="678" width="1" height="58" fill="#c0c0c0"/><rect x="1111" y="678" width="1" height="54" fill="#c0c0c0"/><rect x="1119" y="678" width="1" height="43" fill="#c0c0c0"/><rect x="1127" y="678" width="1" height="34" fill="#c0c0c0"/><rect x="1135" y="678" width="1" height="31" fill="#c0c0c0"/><rect x="1143" y="678" width="1" height="27" fill="#c0c0c0"/><rect x="1151" y="678" width="1" height="25" fill="#c0c0c0"/><rect x="1159" y="678" width="1" height="32" fill="#c0c0c0"/><rect x="1167" y="678" width="1" height="33" fill="#c0c0c0"/><rect x="1175" y="678" width="1" height="31" fill="#c0c0c0"/><rect x="1183" y="678" width="1" height="25" fill="#c0c0c0"/><rect x="1191" y="678" width="1" height="14" fill="#c0c0c0"/><rect x="1199" y="678" width="1" height="3" fill="#c0c0c0"/><rect x="1207" y="676" width="1" height="3" fill="#c0c0c0"/><rect x="1215" y="667" width="1" height="12" fill="#c0c0c0"/><rect x="1223" y="656" width="1" height="23" fill="#c0c0c0"/><rect x="1231" y="647" width="1" height="32" fill="#c0c0c0"/><rect x="1239" y="642" width="1" height="37" fill="#c0c0c0"/><rect x="1247" y="637" width="1" height="42" fill="#c0c0c0"/><rect x="1255" y="634" width="1" height="45" fill="#c0c0c0"/><rect x="1263" y="630" width="1" height="49" fill="#c0c0c0"/><rect x="1271" y="628" width="1" height="51" fill="#c0c0c0"/><rect x="1279" y="626" width="1" height="53" fill="#c0c0c0"/><rect x="1287" y="627" width="1" height="52" fill="#c0c0c0"/><rect x="1295" y="632" width="1" height="47" fill="#c0c0c0"/><rect x="1303" y="633" width="1" height="46" fill="#c0c0c0"/><rect x="1311" y="633" width="1" height="46" fill="#c0c0c0"/><rect x="1319" y="631" width="1" height="48" fill="#c0c0c0"/><rect x="1327" y="633" width="1" height="46" fill="#c0c0c0"/><rect x="1335" y="628" width="1" height="51" fill="#c0c0c0"/><rect x="1343" y="626" width="1" height="53" fill="#c0c0c0"/><polyline points="-0.5,698.0 7.5,703.8 15.5,707.5 23.5,710.0 31.5,710.8 39.5,712.0 47.5,710.0 55.5,708.2 63.5,705.8 71.5,701.2 79.5,696.8 87.5,691.2 95.5,687.5 103.5,684.2 111.5,681.8 119.5,678.8 127.5,675.8 135.5,673.0 143.5,669.5 151.5,665.8 159.5,663.0 167.5,661.2 175.5,658.8 183.5,657.5 191.5,656.0 199.5,656.0 207.5,657.0 215.5,659.5 223.5,662.5 231.5,665.0 239.5,667.5 247.5,670.0 255.5,672.5 263.5,675.0 271.5,677.0 279.5,678.5 287.5,679.8 295.5,680.8 303.5,681.0 311.5,680.8 319.5,680.0 327.5,677.5 335.5,673.8 343.5,669.2 351.5,662.5 359.5,655.0 367.5,648.0 375.5,638.8 383.5,630.0 391.5,622.5 399.5,615.0 407.5,610.0 415.5,605.0 423.5,602.5 431.5,600.8 439.5,598.8 447.5,598.0 455.5,598.0 463.5,598.0 471.5,599.0 479.5,599.8 487.5,602.0 495.5,605.8 503.5,610.0 511.5,615.0 519.5,621.2 527.5,627.0 535.5,632.5 543.5,637.5 551.5,643.2 559.5,648.8 567.5,655.0 575.5,659.5 583.5,663.2 591.5,667.5 599.5,671.8 607.5,675.0 615.5,676.8 623.5,679.0 631.5,679.5 639.5,680.5 647.5,681.2 655.5,681.8 663.5,682.8 671.5,683.5 679.5,684.0 687.5,685.0 695.5,685.8 703.5,686.8 711.5,687.0 719.5,687.5 727.5,687.8 735.5,688.0 743.5,688.8 751.5,689.2 759.5,690.0 767.5,690.8 775.5,691.0 783.5,691.0 791.5,690.8 799.5,690.0 807.5,688.2 815.5,685.8 823.5,683.5 831.5,679.5 839.5,676.2 847.5,673.0 855.5,671.2 863.5,670.0 871.5,669.2 879.5,670.5 887.5,673.0 895.5,676.2 903.5,681.2 911.5,687.0 919.5,693.2 927.5,700.0 935.5,706.8 943.5,714.2 951.5,720.8 959.5,725.8 967.5,729.5 975.5,730.8 983.5,730.5 991.5,727.5 999.5,723.8 1007.5,718.8 1015.5,713.0 1023.5,708.8 1031.5,706.0 1039.5,704.2 1047.5,704.2 1055.5,705.8 1063.5,708.8 1071.5,713.0 1079.5,718.8 1087.5,724.5 1095.5,729.2 1103.5,732.0 1111.5,733.2 1119.5,733.8 1127.5,733.0 1135.5,730.0 1143.5,726.2 1151.5,722.0 1159.5,718.8 1167.5,715.8 1175.5,713.0 1183.5,710.0 1191.5,706.2 1199.5,703.0 1207.5,699.5 1215.5,694.5 1223.5,688.3 1231.5,681.0 1239.5,674.3 1247.5,666.8 1255.5,659.5 1263.5,651.8 1271.5,645.5 1279.5,640.5 1287.5,636.0 1295.5,632.7 1303.5,632.1 1311.5,630.9 1319.5,630.1 1327.5,629.9 1335.5,629.9 1343.5,629.9" fill="none" stroke="#ff0000" stroke-width="1" stroke-dasharray="3 3"/><line x1="0" y1="790.5" x2="1618" y2="790.5" stroke="#c0c0c0" stroke-width="1" stroke-dasharray="3 3" stroke-dashoffset="1"/><line x1="0" y1="841.5" x2="1618" y2="841.5" stroke="#c0c0c0" stroke-width="1" stroke-dasharray="3 3" stroke-dashoffset="1"/><line x1="0" y1="902.5" x2="1618" y2="902.5" stroke="#c0c0c0" stroke-width="1" stroke-dasharray="3 3" stroke-dashoffset="1"/><polyline points="-0.5,857.0 7.5,854.8 15.5,856.0 23.5,846.5 31.5,837.8 39.5,836.0 47.5,835.2 55.5,841.0 63.5,841.0 71.5,830.2 79.5,837.0 87.5,842.0 95.5,839.0 103.5,837.8 111.5,836.5 119.5,832.8 127.5,820.2 135.5,818.5 143.5,822.0 151.5,820.2 159.5,835.8 167.5,837.8 175.5,834.0 183.5,839.5 191.5,842.8 199.5,844.8 207.5,837.0 215.5,854.8 223.5,850.2 231.5,842.0 239.5,844.0 247.5,845.2 255.5,850.8 263.5,852.0 271.5,843.2 279.5,842.0 287.5,839.8 295.5,839.5 303.5,838.5 311.5,837.0 319.5,816.5 327.5,809.0 335.5,802.8 343.5,793.2 351.5,789.8 359.5,786.8 367.5,816.0 375.5,813.2 383.5,812.8 391.5,810.8 399.5,807.0 407.5,807.8 415.5,804.2 423.5,799.0 431.5,804.0 439.5,808.2 447.5,812.2 455.5,822.0 463.5,819.0 471.5,817.8 479.5,816.8 487.5,823.5 495.5,834.5 503.5,842.8 511.5,838.5 519.5,838.5 527.5,840.8 535.5,844.8 543.5,848.8 551.5,849.0 559.5,855.8 567.5,851.0 575.5,852.0 583.5,841.0 591.5,845.8 599.5,849.8 607.5,846.5 615.5,840.8 623.5,847.0 631.5,837.8 639.5,850.8 647.5,852.8 655.5,854.0 663.5,846.8 671.5,849.0 679.5,847.8 687.5,854.8 695.5,848.8 703.5,852.8 711.5,848.8 719.5,846.8 727.5,849.8 735.5,854.8 743.5,863.0 751.5,861.8 759.5,861.8 767.5,864.0 775.5,857.8 783.5,827.2 791.5,825.8 799.5,819.0 807.5,813.8 815.5,817.0 823.5,813.8 831.5,823.1 839.5,830.8 847.5,846.8 855.5,847.0 863.5,850.8 871.5,854.5 879.5,868.8 887.5,872.8 895.5,886.0 903.5,890.8 911.5,894.8 919.5,889.0 927.5,892.0 935.5,893.0 943.5,884.8 951.5,879.8 959.5,872.0 967.5,856.5 975.5,837.8 983.5,823.5 991.5,831.5 999.5,841.8 1007.5,843.0 1015.5,832.8 1023.5,864.0 1031.5,874.8 1039.5,858.8 1047.5,860.0 1055.5,858.8 1063.5,864.5 1071.5,868.5 1079.5,872.8 1087.5,865.8 1095.5,853.0 1103.5,851.8 1111.5,854.0 1119.5,836.8 1127.5,838.0 1135.5,848.0 1143.5,845.0 1151.5,845.0 1159.5,861.8 1167.5,851.8 1175.5,847.8 1183.5,841.8 1191.5,830.0 1199.5,828.8 1207.5,832.8 1215.5,825.8 1223.5,820.0 1231.5,818.9 1239.5,821.8 1247.5,820.9 1255.5,819.8 1263.5,818.0 1271.5,818.0 1279.5,816.7 1287.5,823.1 1295.5,830.0 1303.5,826.8 1311.5,822.2 1319.5,816.7 1327.5,826.8 1335.5,814.9 1343.5,814.9" fill="none" stroke="#1e90ff" stroke-width="1"/><rect x="1619" y="49" width="2" height="1" fill="#000"/><rect x="1619" y="82" width="2" height="1" fill="#000"/><rect x="1619" y="115" width="2" height="1" fill="#000"/><rect x="1619" y="148" width="2" height="1" fill="#000"/><rect x="1619" y="181" width="2" height="1" fill="#000"/><rect x="1619" y="214" width="2" height="1" fill="#000"/><rect x="1619" y="247" width="2" height="1" fill="#000"/><rect x="1619" y="280" width="2" height="1" fill="#000"/><rect x="1619" y="313" width="2" height="1" fill="#000"/><rect x="1619" y="346" width="2" height="1" fill="#000"/><rect x="1619" y="379" width="2" height="1" fill="#000"/><rect x="1619" y="412" width="2" height="1" fill="#000"/><rect x="1619" y="445" width="2" height="1" fill="#000"/><rect x="1619" y="478" width="2" height="1" fill="#000"/><rect x="1619" y="511" width="2" height="1" fill="#000"/><rect x="1619" y="544" width="2" height="1" fill="#000"/><rect x="1619" y="577" width="2" height="1" fill="#000"/><rect x="1619" y="584" width="1" height="1" fill="#000"/><rect x="1619" y="678" width="1" height="1" fill="#000"/><rect x="1619" y="751" width="1" height="1" fill="#000"/><rect x="1619" y="756" width="1" height="1" fill="#000"/><path d="M2 38 L5.5 33.7 L9 38 Z" fill="#000" shape-rendering="geometricPrecision"/><rect x="-1" y="929" width="1" height="3" fill="#000"/><rect x="63" y="929" width="1" height="3" fill="#000"/><rect x="127" y="929" width="1" height="3" fill="#000"/><rect x="191" y="929" width="1" height="3" fill="#000"/><rect x="255" y="929" width="1" height="3" fill="#000"/><rect x="319" y="929" width="1" height="3" fill="#000"/><rect x="383" y="929" width="1" height="3" fill="#000"/><rect x="447" y="929" width="1" height="3" fill="#000"/><rect x="511" y="929" width="1" height="3" fill="#000"/><rect x="575" y="929" width="1" height="3" fill="#000"/><rect x="639" y="929" width="1" height="3" fill="#000"/><rect x="703" y="929" width="1" height="3" fill="#000"/><rect x="767" y="929" width="1" height="3" fill="#000"/><rect x="831" y="929" width="1" height="3" fill="#000"/><rect x="895" y="929" width="1" height="3" fill="#000"/><rect x="959" y="929" width="1" height="3" fill="#000"/><rect x="1023" y="929" width="1" height="3" fill="#000"/><rect x="1087" y="929" width="1" height="3" fill="#000"/><rect x="1151" y="929" width="1" height="3" fill="#000"/><rect x="1215" y="929" width="1" height="3" fill="#000"/><rect x="1279" y="929" width="1" height="3" fill="#000"/><rect x="1343" y="929" width="1" height="3" fill="#000"/><g shape-rendering="geometricPrecision" text-rendering="geometricPrecision"><title>多空转折点</title><text x="1072.8" y="162.5" font-size="31.4" font-weight="bold" letter-spacing="1.6" fill="#041804" opacity="0.95" font-family='"Liberation Serif", "Noto Serif CJK SC", serif'>多空转折点</text><text x="1071.8" y="161.7" font-size="31.4" font-weight="bold" letter-spacing="1.6" fill="#00fa00" font-family='"Liberation Serif", "Noto Serif CJK SC", serif'>多空转折点</text></g><g shape-rendering="auto" text-rendering="geometricPrecision"><text transform="translate(1624.20,53.00) scale(0.925,1)" font-size="10.0" fill="#000" stroke="#000" stroke-width="0.12" font-weight="normal">24110.0</text><text transform="translate(1624.20,86.00) scale(0.925,1)" font-size="10.0" fill="#000" stroke="#000" stroke-width="0.12" font-weight="normal">24034.0</text><text transform="translate(1624.20,119.00) scale(0.925,1)" font-size="10.0" fill="#000" stroke="#000" stroke-width="0.12" font-weight="normal">23956.0</text><text transform="translate(1624.20,152.00) scale(0.925,1)" font-size="10.0" fill="#000" stroke="#000" stroke-width="0.12" font-weight="normal">23878.0</text><text transform="translate(1624.20,185.00) scale(0.925,1)" font-size="10.0" fill="#000" stroke="#000" stroke-width="0.12" font-weight="normal">23802.0</text><text transform="translate(1624.20,218.00) scale(0.925,1)" font-size="10.0" fill="#000" stroke="#000" stroke-width="0.12" font-weight="normal">23724.0</text><text transform="translate(1624.20,251.00) scale(0.925,1)" font-size="10.0" fill="#000" stroke="#000" stroke-width="0.12" font-weight="normal">23648.0</text><text transform="translate(1624.20,284.00) scale(0.925,1)" font-size="10.0" fill="#000" stroke="#000" stroke-width="0.12" font-weight="normal">23570.0</text><text transform="translate(1624.20,317.00) scale(0.925,1)" font-size="10.0" fill="#000" stroke="#000" stroke-width="0.12" font-weight="normal">23494.0</text><text transform="translate(1624.20,350.00) scale(0.925,1)" font-size="10.0" fill="#000" stroke="#000" stroke-width="0.12" font-weight="normal">23416.0</text><text transform="translate(1624.20,383.00) scale(0.925,1)" font-size="10.0" fill="#000" stroke="#000" stroke-width="0.12" font-weight="normal">23340.0</text><text transform="translate(1624.20,416.00) scale(0.925,1)" font-size="10.0" fill="#000" stroke="#000" stroke-width="0.12" font-weight="normal">23262.0</text><text transform="translate(1624.20,449.00) scale(0.925,1)" font-size="10.0" fill="#000" stroke="#000" stroke-width="0.12" font-weight="normal">23186.0</text><text transform="translate(1624.20,482.00) scale(0.925,1)" font-size="10.0" fill="#000" stroke="#000" stroke-width="0.12" font-weight="normal">23108.0</text><text transform="translate(1624.20,515.00) scale(0.925,1)" font-size="10.0" fill="#000" stroke="#000" stroke-width="0.12" font-weight="normal">23032.0</text><text transform="translate(1624.20,548.00) scale(0.925,1)" font-size="10.0" fill="#000" stroke="#000" stroke-width="0.12" font-weight="normal">22954.0</text><text transform="translate(1624.20,581.00) scale(0.925,1)" font-size="10.0" fill="#000" stroke="#000" stroke-width="0.12" font-weight="normal">22878.0</text><rect x="1620" y="79" width="41" height="11" fill="#ff0000"/><text transform="translate(1624.20,88.00) scale(0.925,1)" font-size="10.0" fill="#fff" stroke="#fff" stroke-width="0.12" font-weight="normal">24025.2</text><rect x="1620" y="107" width="41" height="11" fill="#ff0000"/><text transform="translate(1624.20,116.00) scale(0.925,1)" font-size="10.0" fill="#fff" stroke="#fff" stroke-width="0.12" font-weight="normal">23960.0</text><rect x="1620" y="139" width="41" height="11" fill="#000000"/><text transform="translate(1624.20,148.00) scale(0.925,1)" font-size="10.0" fill="#fff" stroke="#fff" stroke-width="0.12" font-weight="normal">23887.5</text><rect x="1620" y="160" width="41" height="11" fill="#32cd32"/><text transform="translate(1624.20,169.00) scale(0.925,1)" font-size="10.0" fill="#fff" stroke="#fff" stroke-width="0.12" font-weight="normal">23836.5</text><rect x="1620" y="190" width="41" height="11" fill="#0000ff"/><text transform="translate(1624.20,199.00) scale(0.925,1)" font-size="10.0" fill="#fff" stroke="#fff" stroke-width="0.12" font-weight="normal">23766.6</text><rect x="1620" y="219" width="41" height="11" fill="#0000ff"/><text transform="translate(1624.20,228.00) scale(0.925,1)" font-size="10.0" fill="#fff" stroke="#fff" stroke-width="0.12" font-weight="normal">23699.0</text><text transform="translate(1622.20,593.00) scale(0.925,1)" font-size="10.0" fill="#000" stroke="#000" stroke-width="0.12" font-weight="normal">177.21</text><text transform="translate(1622.20,682.00) scale(0.925,1)" font-size="10.0" fill="#000" stroke="#000" stroke-width="0.12" font-weight="normal">0.00</text><text transform="translate(1621.20,749.00) scale(0.925,1)" font-size="10.0" fill="#000" stroke="#000" stroke-width="0.12" font-weight="normal">-136.72</text><text transform="translate(1622.20,765.00) scale(0.925,1)" font-size="10.0" fill="#000" stroke="#000" stroke-width="0.12" font-weight="normal">100</text><text transform="translate(1621.70,794.00) scale(0.925,1)" font-size="10.0" fill="#000" stroke="#000" stroke-width="0.12" font-weight="normal">80</text><text transform="translate(1621.70,845.00) scale(0.925,1)" font-size="10.0" fill="#000" stroke="#000" stroke-width="0.12" font-weight="normal">50</text><text transform="translate(1621.70,906.00) scale(0.925,1)" font-size="10.0" fill="#000" stroke="#000" stroke-width="0.12" font-weight="normal">15</text><text transform="translate(1621.70,925.00) scale(0.925,1)" font-size="10.0" fill="#000" stroke="#000" stroke-width="0.12" font-weight="normal">0</text><text transform="translate(13.30,39.00) scale(0.925,1)" font-size="10.0" fill="#000" stroke="#000" stroke-width="0.12" font-weight="normal" xml:space="preserve" style="white-space:pre" word-spacing="0.35">JPN225-,H4  23890.0 23912.5 23872.5 23887.5</text><text transform="translate(3.10,595.00) scale(0.925,1)" font-size="10.16" fill="#000" stroke="#000" stroke-width="0.12" font-weight="normal">MACD(12,26,9) 99.16 92.73</text><text transform="translate(3.10,767.00) scale(0.925,1)" font-size="10.0" fill="#000" stroke="#000" stroke-width="0.12" font-weight="normal">RSI(14) 65.7165</text><text transform="translate(1499.6,175) scale(0.9,1)" font-size="22.2" fill="#ff0000">23836.5</text><text transform="translate(-1.90,941.00) scale(0.925,1)" font-size="9.89" fill="#000" stroke="#000" stroke-width="0.12" font-weight="normal">3 Dec 2019</text><text transform="translate(62.10,941.00) scale(0.925,1)" font-size="9.89" fill="#000" stroke="#000" stroke-width="0.12" font-weight="normal">5 Dec 00:00</text><text transform="translate(126.10,941.00) scale(0.925,1)" font-size="9.89" fill="#000" stroke="#000" stroke-width="0.12" font-weight="normal">6 Dec 10:55</text><text transform="translate(190.10,941.00) scale(0.925,1)" font-size="9.89" fill="#000" stroke="#000" stroke-width="0.12" font-weight="normal">9 Dec 18:55</text><text transform="translate(254.10,941.00) scale(0.925,1)" font-size="9.89" fill="#000" stroke="#000" stroke-width="0.12" font-weight="normal">11 Dec 00:00</text><text transform="translate(318.10,941.00) scale(0.925,1)" font-size="9.89" fill="#000" stroke="#000" stroke-width="0.12" font-weight="normal">12 Dec 10:55</text><text transform="translate(382.10,941.00) scale(0.925,1)" font-size="9.89" fill="#000" stroke="#000" stroke-width="0.12" font-weight="normal">13 Dec 18:55</text><text transform="translate(446.10,941.00) scale(0.925,1)" font-size="9.89" fill="#000" stroke="#000" stroke-width="0.12" font-weight="normal">17 Dec 00:00</text><text transform="translate(510.10,941.00) scale(0.925,1)" font-size="9.89" fill="#000" stroke="#000" stroke-width="0.12" font-weight="normal">18 Dec 10:55</text><text transform="translate(574.10,941.00) scale(0.925,1)" font-size="9.89" fill="#000" stroke="#000" stroke-width="0.12" font-weight="normal">19 Dec 18:55</text><text transform="translate(638.10,941.00) scale(0.925,1)" font-size="9.89" fill="#000" stroke="#000" stroke-width="0.12" font-weight="normal">23 Dec 00:00</text><text transform="translate(702.10,941.00) scale(0.925,1)" font-size="9.89" fill="#000" stroke="#000" stroke-width="0.12" font-weight="normal">24 Dec 10:55</text><text transform="translate(766.10,941.00) scale(0.925,1)" font-size="9.89" fill="#000" stroke="#000" stroke-width="0.12" font-weight="normal">25 Dec 18:55</text><text transform="translate(830.10,941.00) scale(0.925,1)" font-size="9.89" fill="#000" stroke="#000" stroke-width="0.12" font-weight="normal">27 Dec 00:00</text><text transform="translate(894.10,941.00) scale(0.925,1)" font-size="9.89" fill="#000" stroke="#000" stroke-width="0.12" font-weight="normal">30 Dec 10:55</text><text transform="translate(958.10,941.00) scale(0.925,1)" font-size="9.89" fill="#000" stroke="#000" stroke-width="0.12" font-weight="normal">31 Dec 18:55</text><text transform="translate(1022.10,941.00) scale(0.925,1)" font-size="9.89" fill="#000" stroke="#000" stroke-width="0.12" font-weight="normal">3 Jan 00:00</text><text transform="translate(1086.10,941.00) scale(0.925,1)" font-size="9.89" fill="#000" stroke="#000" stroke-width="0.12" font-weight="normal">6 Jan 10:55</text><text transform="translate(1150.10,941.00) scale(0.925,1)" font-size="9.89" fill="#000" stroke="#000" stroke-width="0.12" font-weight="normal">7 Jan 18:55</text><text transform="translate(1214.10,941.00) scale(0.925,1)" font-size="9.89" fill="#000" stroke="#000" stroke-width="0.12" font-weight="normal">9 Jan 00:00</text><text transform="translate(1278.10,941.00) scale(0.925,1)" font-size="9.89" fill="#000" stroke="#000" stroke-width="0.12" font-weight="normal">10 Jan 10:55</text><text transform="translate(1342.10,941.00) scale(0.925,1)" font-size="9.89" fill="#000" stroke="#000" stroke-width="0.12" font-weight="normal">13 Jan 18:55</text></g></svg>
<div id="tb"></div><svg width="1665" height="23" viewBox="0 0 1665 23" style="position:absolute;left:0;top:0"><rect x="0" y="9" width="2" height="12" fill="#00b400"/><rect x="0" y="13" width="5" height="4" fill="#00c800"/><rect x="0" y="6" width="1" height="3" fill="#606060"/><g><title>新订单</title><text x="8" y="14.6" font-size="12" fill="#000" stroke="#000" stroke-width="0.26" font-family='"Liberation Sans", "Noto Sans CJK SC", sans-serif'>新订单</text></g><defs><linearGradient id="gold" x1="0" y1="0" x2="0.6" y2="1"><stop offset="0" stop-color="#ffe680"/><stop offset="0.55" stop-color="#e8b820"/><stop offset="1" stop-color="#a86c10"/></linearGradient><linearGradient id="blu" x1="0" y1="0" x2="0" y2="1"><stop offset="0" stop-color="#3aa0ff"/><stop offset="1" stop-color="#1060d0"/></linearGradient><radialGradient id="lens" cx="0.4" cy="0.35" r="0.7"><stop offset="0" stop-color="#f4faff"/><stop offset="1" stop-color="#a8cdf0"/></radialGradient></defs><path d="M62 4 L71.6 11.4 L63.6 17.4 L56 12.6 Z" fill="url(#gold)" stroke="#b8841c" stroke-width="0.7"/><path d="M56 12.6 L62 4 L63.6 5.2 L58 13.9 Z" fill="#fff0a0" opacity="0.85"/><path d="M56.2 13.4 L63.7 18.2 L71.8 12.2" fill="none" stroke="#fbf4dc" stroke-width="1.1"/><path d="M56.2 14.4 L63.8 19.3 L72 13.2" fill="none" stroke="#9a6614" stroke-width="1.1"/><path d="M86.5 4 L91 3.2 L97.8 4.2 V11.5 H86.5Z" fill="url(#blu)"/><path d="M90 5.5 V11.5 H97 V6.2Z" fill="#d6ecff"/><rect x="91.5" y="7" width="4" height="1.2" fill="#2a7ae0"/><path d="M85 18.5 a2.8 2.8 0 0 1 0.6 -5.4 a3.6 3.6 0 0 1 6.6 -1 a3.2 3.2 0 0 1 5 2 a2.4 2.4 0 0 1 0.6 4.4 Z" fill="#eef3fb" stroke="#6f8fd0" stroke-width="0.9"/><path d="M120.2 10.8 L120.2 18.4 A7.6 7.6 0 0 0 127.8 10.8 Z" fill="#58bc58" opacity="0.6"/><g fill="none" stroke-linecap="round"><path d="M121.5 3.3 A7.6 7.6 0 1 0 118.4 18.2" stroke="#9fb8ea" stroke-width="1.1"/><path d="M121.4 6.2 A4.7 4.7 0 1 0 118.9 15.3" stroke="#4f7fe0" stroke-width="1.3"/><path d="M120.2 18.4 A7.6 7.6 0 0 0 127.8 10.8" stroke="#38a838" stroke-width="1.4"/></g><circle cx="120.2" cy="10.8" r="1.9" fill="#2a60d8"/><rect x="119.5" y="11" width="1.5" height="7.6" fill="#2a982a"/><path d="M140.6 9.6 L146.5 18.6 L150 18.8 L153.6 9.6Z" fill="#f9d84c" stroke="#d0a428" stroke-width="0.6"/><path d="M141.5 10 L146.8 18 L148.6 12 Z" fill="#fdeea0" opacity="0.8"/><ellipse cx="147" cy="8.6" rx="7.8" ry="2.5" fill="#5aa8e2" stroke="#3a80c4" stroke-width="0.6"/><path d="M143 8 C143 3.4 145.4 2.9 147 2.9 C148.8 2.9 151 3.6 151 8 Z" fill="#6ab4e8" stroke="#3a80c4" stroke-width="0.6"/><path d="M143.4 7.8 Q147 9.4 150.8 7.8" stroke="#2f6eb0" stroke-width="0.8" fill="none"/><circle cx="151.6" cy="14.8" r="4.3" fill="#d93018"/><circle cx="151.6" cy="14.8" r="4.3" fill="none" stroke="#b02010" stroke-width="0.5"/><rect x="149.9" y="13.1" width="3.4" height="3.4" fill="#fff"/><g><title>自动交易</title><text x="160.6" y="14.6" font-size="12" letter-spacing="-0.3" fill="#000" stroke="#000" stroke-width="0.26" font-family='"Liberation Sans", "Noto Sans CJK SC", sans-serif'>自动交易</text></g><rect x="215" y="1" width="1" height="20" fill="#a0a0a0" shape-rendering="crispEdges"/><rect x="216" y="1" width="1" height="20" fill="#fafafa" shape-rendering="crispEdges"/><rect x="219" y="2" width="3" height="1" fill="#a8a8a8" shape-rendering="crispEdges"/><rect x="219" y="4" width="3" height="1" fill="#a8a8a8" shape-rendering="crispEdges"/><rect x="219" y="6" width="3" height="1" fill="#a8a8a8" shape-rendering="crispEdges"/><rect x="219" y="8" width="3" height="1" fill="#a8a8a8" shape-rendering="crispEdges"/><rect x="219" y="10" width="3" height="1" fill="#a8a8a8" shape-rendering="crispEdges"/><rect x="219" y="12" width="3" height="1" fill="#a8a8a8" shape-rendering="crispEdges"/><rect x="219" y="14" width="3" height="1" fill="#a8a8a8" shape-rendering="crispEdges"/><rect x="219" y="16" width="3" height="1" fill="#a8a8a8" shape-rendering="crispEdges"/><rect x="219" y="18" width="3" height="1" fill="#a8a8a8" shape-rendering="crispEdges"/><g stroke="#555555" stroke-width="1" fill="none" shape-rendering="crispEdges"><path d="M233.5 6 V19"/><path d="M230.5 16.5 H243"/></g><path d="M233.5 4.8 l-2.4 2.6 h4.8z M244.4 16.5 l-2.6 -2.4 v4.8z" fill="#555555"/><path d="M239.5 6.5 V14.5 M239.5 7.5 H242 M237.5 13.5 H239.5" stroke="#008c00" stroke-width="1.3" fill="none"/><rect x="253" y="1" width="1" height="20" fill="#a0a0a0" shape-rendering="crispEdges"/><rect x="254" y="1" width="1" height="20" fill="#fafafa" shape-rendering="crispEdges"/><rect x="254" y="1" width="25" height="21" fill="#f9f9f9" shape-rendering="crispEdges"/><g stroke="#555555" stroke-width="1" fill="none" shape-rendering="crispEdges"><path d="M261.5 6 V19"/><path d="M258.5 16.5 H271"/></g><path d="M261.5 4.8 l-2.4 2.6 h4.8z M272.4 16.5 l-2.6 -2.4 v4.8z" fill="#555555"/><path d="M267.5 3.2 V15" stroke="#0a7a0a" stroke-width="1.2"/><rect x="265.5" y="5.4" width="4.2" height="7.6" fill="#3ee03e" stroke="#0a8a0a" stroke-width="0.9"/><g stroke="#555555" stroke-width="1" fill="none" shape-rendering="crispEdges"><path d="M289.5 6 V19"/><path d="M286.5 16.5 H299"/></g><path d="M289.5 4.8 l-2.4 2.6 h4.8z M300.4 16.5 l-2.6 -2.4 v4.8z" fill="#555555"/><path d="M288 13.8 C291 10 293 7.6 295 8.2 C297 9 298.5 11.5 300.2 12.4" stroke="#2a9a2a" stroke-width="1.2" fill="none"/><rect x="310" y="1" width="1" height="20" fill="#a0a0a0" shape-rendering="crispEdges"/><rect x="311" y="1" width="1" height="20" fill="#fafafa" shape-rendering="crispEdges"/><path d="M328.40000000000003 12.6 L334.40000000000003 17.6" stroke="#b8901c" stroke-width="2.6" stroke-linecap="round"/><path d="M328.8 12.6 L334.0 17" stroke="#f0d860" stroke-width="1.1" stroke-linecap="round"/><circle cx="324.8" cy="9" r="5.6" fill="url(#lens)" stroke="#4a86d6" stroke-width="1.3"/><path d="M321.8 9 H327.8 M324.8 6 V12" stroke="#3f7fb8" stroke-width="1.7"/><path d="M356.6 12.6 L362.6 17.6" stroke="#b8901c" stroke-width="2.6" stroke-linecap="round"/><path d="M357 12.6 L362.2 17" stroke="#f0d860" stroke-width="1.1" stroke-linecap="round"/><circle cx="353" cy="9" r="5.6" fill="url(#lens)" stroke="#4a86d6" stroke-width="1.3"/><path d="M350 9 H356" stroke="#3f7fb8" stroke-width="1.7"/><rect x="375" y="3" width="8" height="8" fill="#4aa01e"/><rect x="376.2" y="6" width="5.6" height="4" fill="#fff"/><rect x="377.2" y="7.2" width="3.6" height="0.9" fill="#4aa01e" opacity="0.6"/><rect x="383.2" y="3" width="8" height="8" fill="#2050d0"/><rect x="384.4" y="6" width="5.6" height="4" fill="#fff"/><rect x="385.4" y="7.2" width="3.6" height="0.9" fill="#2050d0" opacity="0.6"/><rect x="375" y="11.2" width="8" height="8" fill="#2050d0"/><rect x="376.2" y="14.2" width="5.6" height="4" fill="#fff"/><rect x="377.2" y="15.399999999999999" width="3.6" height="0.9" fill="#2050d0" opacity="0.6"/><rect x="383.2" y="11.2" width="8" height="8" fill="#4aa01e"/><rect x="384.4" y="14.2" width="5.6" height="4" fill="#fff"/><rect x="385.4" y="15.399999999999999" width="3.6" height="0.9" fill="#4aa01e" opacity="0.6"/><rect x="400" y="1" width="1" height="20" fill="#a0a0a0" shape-rendering="crispEdges"/><rect x="401" y="1" width="1" height="20" fill="#fafafa" shape-rendering="crispEdges"/><rect x="406" y="1" width="24" height="21" fill="#f9f9f9" shape-rendering="crispEdges"/><rect x="405" y="1" width="1" height="21" fill="#a0a0a0" shape-rendering="crispEdges"/><g stroke="#555555" stroke-width="1" fill="none" shape-rendering="crispEdges"><path d="M413.5 6 V19"/><path d="M410.5 16.5 H423"/></g><path d="M413.5 4.8 l-2.4 2.6 h4.8z M424.4 16.5 l-2.6 -2.4 v4.8z" fill="#555555"/><path d="M418.4 6.8 L422.4 10.4 L418.4 14Z" fill="#40d040" stroke="#0a8a0a" stroke-width="0.8"/><rect x="434" y="1" width="25" height="21" fill="#f9f9f9" shape-rendering="crispEdges"/><rect x="433" y="1" width="1" height="21" fill="#a0a0a0" shape-rendering="crispEdges"/><g stroke="#555555" stroke-width="1" fill="none" shape-rendering="crispEdges"><path d="M441.5 6 V19"/><path d="M438.5 16.5 H451"/></g><path d="M441.5 4.8 l-2.4 2.6 h4.8z M452.4 16.5 l-2.6 -2.4 v4.8z" fill="#555555"/><rect x="447" y="5" width="1.3" height="10" fill="#1a6aa8"/><path d="M448.6 10.5 L452.8 10.5 M448.6 10.5 l2.4 -2.2 M448.6 10.5 l2.4 2.2" stroke="#e05000" stroke-width="1.2" fill="none"/><rect x="462" y="1" width="1" height="20" fill="#a0a0a0" shape-rendering="crispEdges"/><rect x="463" y="1" width="1" height="20" fill="#fafafa" shape-rendering="crispEdges"/><path d="M472.5 3.6 H480 L483.4 7 V16.4 H472.5Z" fill="#fcfcfc" stroke="#8a8a8a" stroke-width="0.8"/><path d="M480 3.6 V7 H483.4" fill="#e4e4e4" stroke="#8a8a8a" stroke-width="0.7"/><path d="M475 6.5 q-1.4 0 -1 2 q0.3 1.6 -0.8 1.8 q1.1 0.2 0.8 1.8 q-0.4 2 1 2" stroke="#6a5a3a" stroke-width="0.7" fill="none"/><path d="M480.2 9.4 h3.8 v3.8 h3.8 v3.8 h-3.8 v3.8 h-3.8 v-3.8 h-3.8 v-3.8 h3.8z" fill="#34dc34" stroke="#0c8c0c" stroke-width="0.8"/><path d="M494 10 h5.4 l-2.7 3z" fill="#000"/><circle cx="518" cy="10.8" r="7" fill="#f4f8fc" stroke="#1c62c8" stroke-width="2.2"/><circle cx="518" cy="10.8" r="8" fill="none" stroke="#0c3c90" stroke-width="0.5"/><path d="M518 6.4 V11 H521.2" stroke="#303030" stroke-width="1.1" fill="none"/><path d="M533 10 h5.4 l-2.7 3z" fill="#000"/><rect x="549.5" y="4.2" width="15.2" height="13.2" fill="#fff" stroke="#4878c0" stroke-width="1"/><rect x="549.5" y="4.2" width="15.2" height="2.6" fill="#5a94dc"/><rect x="550" y="11.6" width="14.2" height="0.9" fill="#4878c0"/><path d="M551.6 10 l2.4 -0.2 l2.2 -1.6 l2.4 0.8 l2.2 -0.4 l1.8 -1" stroke="#a82000" stroke-width="1.1" fill="none"/><path d="M552 15.4 l2.6 -0.8 l2 0.6 l2.4 -2 l2.6 2.2" stroke="#0a8a0a" stroke-width="1.1" fill="none"/><path d="M572 10 h5.4 l-2.7 3z" fill="#000"/><rect x="583" y="1" width="1" height="20" fill="#a0a0a0" shape-rendering="crispEdges"/><rect x="584" y="1" width="1" height="20" fill="#fafafa" shape-rendering="crispEdges"/><rect x="587" y="2" width="3" height="1" fill="#a8a8a8" shape-rendering="crispEdges"/><rect x="587" y="4" width="3" height="1" fill="#a8a8a8" shape-rendering="crispEdges"/><rect x="587" y="6" width="3" height="1" fill="#a8a8a8" shape-rendering="crispEdges"/><rect x="587" y="8" width="3" height="1" fill="#a8a8a8" shape-rendering="crispEdges"/><rect x="587" y="10" width="3" height="1" fill="#a8a8a8" shape-rendering="crispEdges"/><rect x="587" y="12" width="3" height="1" fill="#a8a8a8" shape-rendering="crispEdges"/><rect x="587" y="14" width="3" height="1" fill="#a8a8a8" shape-rendering="crispEdges"/><rect x="587" y="16" width="3" height="1" fill="#a8a8a8" shape-rendering="crispEdges"/><rect x="587" y="18" width="3" height="1" fill="#a8a8a8" shape-rendering="crispEdges"/><rect x="595" y="1" width="24" height="21" fill="#f9f9f9" shape-rendering="crispEdges"/><rect x="594" y="1" width="1" height="21" fill="#a0a0a0" shape-rendering="crispEdges"/><path d="M600.6 3.6 V15.6 L603.4 12.8 L605.6 17.8 L607.4 17 L605.2 12.2 L609 12.2Z" fill="#555555"/><path d="M633.5 4.5 V18 M626 11.5 H641" stroke="#555555" stroke-width="1" shape-rendering="crispEdges"/><rect x="632" y="10" width="3" height="3" fill="#f0f0f0"/><rect x="633" y="11" width="1" height="1" fill="#555555"/><rect x="650" y="1" width="1" height="20" fill="#a0a0a0" shape-rendering="crispEdges"/><rect x="651" y="1" width="1" height="20" fill="#fafafa" shape-rendering="crispEdges"/><rect x="667" y="5" width="1" height="13" fill="#555555"/><rect x="690" y="11" width="12" height="1" fill="#555555"/><path d="M718 18 L730 5.6" stroke="#555555" stroke-width="1.1"/><g stroke="#555555" stroke-width="0.9" fill="none"><path d="M744 13 L756 3.8 M745.6 17.6 L758 8.2"/><path d="M747.4 8.6 l0.8 8 M750.6 6.2 l0.8 8 M753.8 4 l0.8 8"/></g><text x="755" y="19.6" font-size="6.4" font-weight="bold" fill="#555555" font-family='"Liberation Sans", sans-serif'>E</text><path d="M773 4.5 H786" stroke="#555555" stroke-width="1" stroke-dasharray="1 1" shape-rendering="crispEdges"/><path d="M773 8.5 H786" stroke="#555555" stroke-width="1" stroke-dasharray="1 1" shape-rendering="crispEdges"/><path d="M773 12.0 H786" stroke="#555555" stroke-width="1" stroke-dasharray="1 1" shape-rendering="crispEdges"/><path d="M773 16.0 H782" stroke="#555555" stroke-width="1" stroke-dasharray="1 1" shape-rendering="crispEdges"/><text x="783" y="19.6" font-size="6.4" font-weight="bold" fill="#555555" font-family='"Liberation Sans", sans-serif'>F</text><text x="803.6" y="16" font-size="11.8" fill="#555555" stroke="#555555" stroke-width="0.4" font-family='"Liberation Sans", sans-serif'>A</text><rect x="830" y="5" width="11.5" height="12.5" fill="none" stroke="#555555" stroke-width="1" stroke-dasharray="1 1" shape-rendering="crispEdges"/><text x="831.4" y="16" font-size="12.4" font-weight="bold" fill="#555555" font-family='"Liberation Sans", sans-serif'>T</text><path d="M860.6 5 l3.2 3 l-3.2 2.2 l-3.2 -2.2z M867.4 18 l-3.4 -3 l3.4 -2.2 l3.4 2.2z" fill="#555555"/><path d="M860 11.4 l2.2 2.6 l4 -4.6" stroke="#555555" stroke-width="1.2" fill="none"/><path d="M878 10 h5.4 l-2.7 3z" fill="#000"/><rect x="889" y="1" width="1" height="20" fill="#a0a0a0" shape-rendering="crispEdges"/><rect x="890" y="1" width="1" height="20" fill="#fafafa" shape-rendering="crispEdges"/><rect x="893" y="2" width="3" height="1" fill="#a8a8a8" shape-rendering="crispEdges"/><rect x="893" y="4" width="3" height="1" fill="#a8a8a8" shape-rendering="crispEdges"/><rect x="893" y="6" width="3" height="1" fill="#a8a8a8" shape-rendering="crispEdges"/><rect x="893" y="8" width="3" height="1" fill="#a8a8a8" shape-rendering="crispEdges"/><rect x="893" y="10" width="3" height="1" fill="#a8a8a8" shape-rendering="crispEdges"/><rect x="893" y="12" width="3" height="1" fill="#a8a8a8" shape-rendering="crispEdges"/><rect x="893" y="14" width="3" height="1" fill="#a8a8a8" shape-rendering="crispEdges"/><rect x="893" y="16" width="3" height="1" fill="#a8a8a8" shape-rendering="crispEdges"/><rect x="893" y="18" width="3" height="1" fill="#a8a8a8" shape-rendering="crispEdges"/><rect x="1040" y="1" width="25" height="21" fill="#f9f9f9" shape-rendering="crispEdges"/><rect x="1039" y="1" width="1" height="21" fill="#a0a0a0" shape-rendering="crispEdges"/><text x="904" y="15" font-size="10" fill="#3c3c3c" font-family='"Liberation Sans", sans-serif'>M1</text><text x="932" y="15" font-size="10" fill="#3c3c3c" font-family='"Liberation Sans", sans-serif'>M5</text><text x="957.6" y="15" font-size="10" fill="#3c3c3c" font-family='"Liberation Sans", sans-serif'>M15</text><text x="985.6" y="15" font-size="10" fill="#3c3c3c" font-family='"Liberation Sans", sans-serif'>M30</text><text x="1016.6" y="15" font-size="10" fill="#3c3c3c" font-family='"Liberation Sans", sans-serif'>H1</text><text x="1044" y="15" font-size="10" fill="#3c3c3c" font-family='"Liberation Sans", sans-serif'>H4</text><text x="1072.8" y="15" font-size="10" fill="#3c3c3c" font-family='"Liberation Sans", sans-serif'>D1</text><text x="1100.4" y="15" font-size="10" fill="#3c3c3c" font-family='"Liberation Sans", sans-serif'>W1</text><text x="1126.8" y="15" font-size="10" fill="#3c3c3c" font-family='"Liberation Sans", sans-serif'>MN</text><rect x="1150" y="0" width="1" height="22" fill="#a0a0a0" shape-rendering="crispEdges"/><circle cx="1620.6" cy="8.2" r="4" fill="#fff" stroke="#2a5ed0" stroke-width="1.2"/><path d="M1617.6 11.4 L1613.2 15.4" stroke="#2a5ed0" stroke-width="2" stroke-linecap="round"/><ellipse cx="1653" cy="7.6" rx="6.2" ry="4.6" fill="#eceef2" stroke="#b0b0b0" stroke-width="0.8"/><path d="M1655 11.6 l1.4 2.6 l0.8 -3z" fill="#a8a8a8"/><ellipse cx="1644.2" cy="12" rx="5" ry="3.8" fill="#f0f2f6" stroke="#a8a8a8" stroke-width="0.8"/><path d="M1641.6 15 l0 2.6 l2.2 -2.2z" fill="#a0a0a0"/></svg><div id="tbl1"></div><div id="tbl2"></div><div id="redge"></div><svg width="224" height="70" viewBox="0 44 224 70" style="position:absolute;left:0;top:44px" font-family='"Liberation Sans", sans-serif'>
<defs><linearGradient id="ocg" gradientUnits="userSpaceOnUse" x1="0" y1="47" x2="0" y2="111"><stop offset="0" stop-color="#fa5050"/><stop offset="0.36" stop-color="#e03232"/><stop offset="0.7" stop-color="#c41616"/><stop offset="1" stop-color="#a60000"/></linearGradient>
<linearGradient id="spg" x1="0" y1="0" x2="0" y2="1"><stop offset="0" stop-color="#f4f4f4"/><stop offset="0.45" stop-color="#e6e6e6"/><stop offset="0.5" stop-color="#d8d8d8"/><stop offset="1" stop-color="#cccccc"/></linearGradient></defs>
<rect x="0" y="44" width="223" height="69" fill="#fff"/>
<path d="M2.5 47.5 H53.5 V71.5 H110.5 V110.5 H2.5 Z" fill="url(#ocg)" stroke="#c00808" stroke-width="1"/>
<path d="M169.5 47.5 H220.5 V110.5 H113.5 V71.5 H169.5 Z" fill="url(#ocg)" stroke="#c00808" stroke-width="1"/>
<rect x="6" y="70" width="44" height="1" fill="#b40000"/><rect x="6" y="71" width="44" height="1" fill="#ff8a8a"/>
<rect x="173" y="70" width="44" height="1" fill="#b40000"/><rect x="173" y="71" width="44" height="1" fill="#ff8a8a"/>
<rect x="56.5" y="47.5" width="110" height="21" fill="#fff" stroke="#aab0bc" stroke-width="1"/>
<rect x="58" y="49" width="18" height="18" fill="url(#spg)"/><rect x="76.5" y="48" width="1" height="20" fill="#aab0bc"/>
<rect x="147" y="49" width="18" height="18" fill="url(#spg)"/><rect x="145.5" y="48" width="1" height="20" fill="#aab0bc"/>
<path d="M64 56 h5.4 l-2.7 3z M153.6 59 h5.4 l-2.7 -3z" fill="#4a62c0"/>
<text transform="translate(117.8,62.1)" font-size="12.5" fill="#000">1.00</text>
<text transform="translate(13.2,62.9) scale(0.9,1)" font-size="12.4" fill="#fff">SELL</text>
<text transform="translate(181.7,62.9) scale(0.94,1)" font-size="12.4" fill="#fff">BUY</text>
<text x="18.2" y="101.9" font-size="12.5" font-weight="bold" fill="#fff">23886</text>
<text x="128.5" y="101.9" font-size="12.5" font-weight="bold" fill="#fff">23909</text>
<circle cx="59.4" cy="100" r="2.2" fill="#fff"/><circle cx="170.6" cy="100" r="2.2" fill="#fff"/>
<text transform="translate(62.9,102.5) scale(0.94,1)" font-size="36" fill="#fff" stroke="#c81a1a" stroke-width="0.8">0</text>
<text transform="translate(173.8,102.5) scale(0.94,1)" font-size="36" fill="#fff" stroke="#c81a1a" stroke-width="0.8">0</text>
</svg>
</body></html>
